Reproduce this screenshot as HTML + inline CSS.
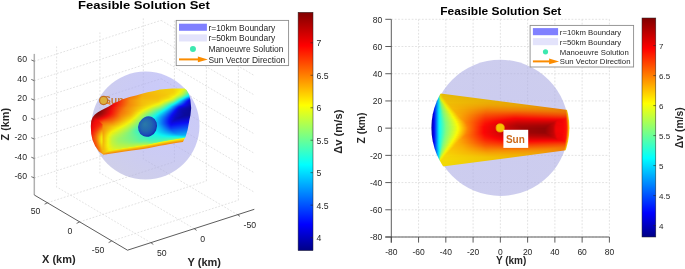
<!DOCTYPE html>
<html><head><meta charset="utf-8"><style>
html,body{margin:0;padding:0;background:#fff;}
svg{display:block;will-change:transform;}
text{font-family:"Liberation Sans", sans-serif;}
</style></head><body>
<svg width="685" height="269" viewBox="0 0 685 269">
<rect width="685" height="269" fill="#fff"/>
<line x1="47.6" y1="202.7" x2="174.4" y2="161.8" stroke="#dbdbdb" stroke-width="0.8" stroke-dasharray="1.8 1.6" fill="none"/>
<line x1="79.6" y1="221.9" x2="206.4" y2="181" stroke="#dbdbdb" stroke-width="0.8" stroke-dasharray="1.8 1.6" fill="none"/>
<line x1="111.6" y1="241.1" x2="238.4" y2="200.2" stroke="#dbdbdb" stroke-width="0.8" stroke-dasharray="1.8 1.6" fill="none"/>
<line x1="150.9" y1="242.7" x2="57.7" y2="187.5" stroke="#dbdbdb" stroke-width="0.8" stroke-dasharray="1.8 1.6" fill="none"/>
<line x1="194.2" y1="228.7" x2="101" y2="173.5" stroke="#dbdbdb" stroke-width="0.8" stroke-dasharray="1.8 1.6" fill="none"/>
<line x1="237.6" y1="214.7" x2="144.4" y2="159.5" stroke="#dbdbdb" stroke-width="0.8" stroke-dasharray="1.8 1.6" fill="none"/>
<line x1="34.3" y1="61.25" x2="161.1" y2="20.35" stroke="#dbdbdb" stroke-width="0.8" stroke-dasharray="1.8 1.6" fill="none"/>
<line x1="34.3" y1="80.7" x2="161.1" y2="39.8" stroke="#dbdbdb" stroke-width="0.8" stroke-dasharray="1.8 1.6" fill="none"/>
<line x1="34.3" y1="100.15" x2="161.1" y2="59.25" stroke="#dbdbdb" stroke-width="0.8" stroke-dasharray="1.8 1.6" fill="none"/>
<line x1="34.3" y1="119.6" x2="161.1" y2="78.7" stroke="#dbdbdb" stroke-width="0.8" stroke-dasharray="1.8 1.6" fill="none"/>
<line x1="34.3" y1="139.05" x2="161.1" y2="98.15" stroke="#dbdbdb" stroke-width="0.8" stroke-dasharray="1.8 1.6" fill="none"/>
<line x1="34.3" y1="158.5" x2="161.1" y2="117.6" stroke="#dbdbdb" stroke-width="0.8" stroke-dasharray="1.8 1.6" fill="none"/>
<line x1="34.3" y1="177.95" x2="161.1" y2="137.05" stroke="#dbdbdb" stroke-width="0.8" stroke-dasharray="1.8 1.6" fill="none"/>
<line x1="56.6" y1="187.5" x2="56.6" y2="46.4" stroke="#dbdbdb" stroke-width="0.8" stroke-dasharray="1.8 1.6" fill="none"/>
<line x1="99.9" y1="173.5" x2="99.9" y2="32.4" stroke="#dbdbdb" stroke-width="0.8" stroke-dasharray="1.8 1.6" fill="none"/>
<line x1="143.3" y1="159.5" x2="143.3" y2="18.4" stroke="#dbdbdb" stroke-width="0.8" stroke-dasharray="1.8 1.6" fill="none"/>
<line x1="161.1" y1="20.35" x2="254.3" y2="75.55" stroke="#dbdbdb" stroke-width="0.8" stroke-dasharray="1.8 1.6" fill="none"/>
<line x1="161.1" y1="39.8" x2="254.3" y2="95" stroke="#dbdbdb" stroke-width="0.8" stroke-dasharray="1.8 1.6" fill="none"/>
<line x1="161.1" y1="59.25" x2="254.3" y2="114.45" stroke="#dbdbdb" stroke-width="0.8" stroke-dasharray="1.8 1.6" fill="none"/>
<line x1="161.1" y1="78.7" x2="254.3" y2="133.9" stroke="#dbdbdb" stroke-width="0.8" stroke-dasharray="1.8 1.6" fill="none"/>
<line x1="161.1" y1="98.15" x2="254.3" y2="153.35" stroke="#dbdbdb" stroke-width="0.8" stroke-dasharray="1.8 1.6" fill="none"/>
<line x1="161.1" y1="117.6" x2="254.3" y2="172.8" stroke="#dbdbdb" stroke-width="0.8" stroke-dasharray="1.8 1.6" fill="none"/>
<line x1="161.1" y1="137.05" x2="254.3" y2="192.25" stroke="#dbdbdb" stroke-width="0.8" stroke-dasharray="1.8 1.6" fill="none"/>
<line x1="174.4" y1="161.8" x2="174.4" y2="20.7" stroke="#dbdbdb" stroke-width="0.8" stroke-dasharray="1.8 1.6" fill="none"/>
<line x1="206.4" y1="181" x2="206.4" y2="39.9" stroke="#dbdbdb" stroke-width="0.8" stroke-dasharray="1.8 1.6" fill="none"/>
<line x1="238.4" y1="200.2" x2="238.4" y2="59.1" stroke="#dbdbdb" stroke-width="0.8" stroke-dasharray="1.8 1.6" fill="none"/>
<defs>
<radialGradient id="lsph" cx="0.72" cy="0.3" r="0.95">
 <stop offset="0" stop-color="#a8a8fa"/><stop offset="0.5" stop-color="#acacec"/><stop offset="1" stop-color="#b4b4d4"/>
</radialGradient>
<clipPath id="lclip"><polygon points="92.7,117.2 94.9,114.6 97.9,112.3 100.9,110.5 105.3,108.2 108.3,106.7 111.5,104.77 114.6,102.9 118,101.38 122,99.6 129.5,97 136,95.5 141,94.11 147.5,92.3 154,90.9 160,89.6 166,89.05 172,88.5 178,88.45 184.6,88.4 185.6,89.2 186.6,90 187.45,91.5 188.3,93 188.97,94.8 189.6,96.5 190.4,100 190.8,104 191.2,108 190.85,111.5 190.5,115 189.4,120 188.5,125 187.6,130 185.5,137 182.9,142 176,143.07 170,144 165,144.9 160,145.8 154,147 148,148.2 140,149.4 132,150.52 125,151.5 117,152.73 110,153.8 103.5,154.8 99,151.5 97.23,149 95.1,146 93.8,143 92.5,140 91.85,137 91.2,134 91.05,131 90.9,128 90.8,126 91,123.5 91.2,120.9 91.97,119 92.7,117.2"/></clipPath>
<linearGradient id="ltop" gradientUnits="userSpaceOnUse" x1="95" y1="112" x2="185" y2="90">
 <stop offset="0" stop-color="#a00010"/><stop offset="0.2" stop-color="#e01000"/><stop offset="0.45" stop-color="#f07000"/>
 <stop offset="0.75" stop-color="#eca800"/><stop offset="1" stop-color="#e8b400"/>
</linearGradient>
<radialGradient id="lside" gradientUnits="userSpaceOnUse" cx="0" cy="0" r="1" gradientTransform="translate(188,116) rotate(-34) scale(92,30)">
 <stop offset="0" stop-color="#00009a"/><stop offset="0.18" stop-color="#0010ff"/><stop offset="0.45" stop-color="#00e0f0"/>
 <stop offset="0.7" stop-color="#70f070"/><stop offset="0.9" stop-color="#f0f000"/><stop offset="1" stop-color="#f8d000"/>
</radialGradient>
<linearGradient id="lcap" gradientUnits="userSpaceOnUse" x1="91" y1="120" x2="104" y2="150">
 <stop offset="0" stop-color="#d00000"/><stop offset="0.45" stop-color="#ff3000"/><stop offset="0.8" stop-color="#ffa000"/><stop offset="1" stop-color="#ffe000"/>
</linearGradient>
<filter id="lblur" x="-10%" y="-10%" width="120%" height="120%"><feGaussianBlur stdDeviation="1.6"/></filter>
</defs>
<circle cx="145.5" cy="125.6" r="54" fill="url(#lsph)" fill-opacity="0.62"/>
<text x="103.7" y="103.6" font-size="10.6" font-weight="bold" fill="#c47428" fill-opacity="0.9">Sun</text>
<line x1="103.8" y1="101" x2="110.5" y2="104.2" stroke="#ee9034" stroke-width="1.5"/>
<circle cx="103.6" cy="100.5" r="4.05" fill="#dcb03c" stroke="#bf6c24" stroke-width="1.2"/>
<g clip-path="url(#lclip)">
<defs><linearGradient id="ll0" gradientUnits="userSpaceOnUse" x1="167.0" x2="186.0" y1="0" y2="0"><stop offset="0.000" stop-color="#f4cb0b"/><stop offset="0.368" stop-color="#f4d10b"/><stop offset="0.895" stop-color="#f3f40c"/><stop offset="1.000" stop-color="#e1f41e"/></linearGradient><linearGradient id="ll1" gradientUnits="userSpaceOnUse" x1="159.0" x2="186.0" y1="0" y2="0"><stop offset="0.000" stop-color="#f4ce0b"/><stop offset="0.481" stop-color="#f4cc0b"/><stop offset="0.889" stop-color="#f1f40e"/><stop offset="1.000" stop-color="#d4f42b"/></linearGradient><linearGradient id="ll2" gradientUnits="userSpaceOnUse" x1="154.0" x2="187.0" y1="0" y2="0"><stop offset="0.000" stop-color="#f4c60b"/><stop offset="0.273" stop-color="#f4cb0b"/><stop offset="0.576" stop-color="#f4cd0b"/><stop offset="0.848" stop-color="#f1f40e"/><stop offset="0.970" stop-color="#c5f43a"/><stop offset="1.000" stop-color="#b6f449"/></linearGradient><linearGradient id="ll3" gradientUnits="userSpaceOnUse" x1="149.0" x2="188.0" y1="0" y2="0"><stop offset="0.000" stop-color="#f4bf0b"/><stop offset="0.359" stop-color="#f4c90b"/><stop offset="0.615" stop-color="#f4cd0b"/><stop offset="0.769" stop-color="#f4e80b"/><stop offset="0.821" stop-color="#f1f40e"/><stop offset="0.923" stop-color="#c6f439"/><stop offset="1.000" stop-color="#94f46b"/></linearGradient><linearGradient id="ll4" gradientUnits="userSpaceOnUse" x1="145.0" x2="188.0" y1="0" y2="0"><stop offset="0.000" stop-color="#f4b80b"/><stop offset="0.419" stop-color="#f4c70b"/><stop offset="0.674" stop-color="#f4d00b"/><stop offset="0.814" stop-color="#f3f40c"/><stop offset="0.907" stop-color="#c7f438"/><stop offset="1.000" stop-color="#81f47e"/></linearGradient><linearGradient id="ll5" gradientUnits="userSpaceOnUse" x1="142.0" x2="189.0" y1="0" y2="0"><stop offset="0.000" stop-color="#f4ae0b"/><stop offset="0.128" stop-color="#f4b90b"/><stop offset="0.660" stop-color="#f4d00b"/><stop offset="0.766" stop-color="#f4eb0b"/><stop offset="0.809" stop-color="#ecf413"/><stop offset="0.872" stop-color="#c9f436"/><stop offset="1.000" stop-color="#5af4a5"/></linearGradient><linearGradient id="ll6" gradientUnits="userSpaceOnUse" x1="138.0" x2="189.0" y1="0" y2="0"><stop offset="0.000" stop-color="#f4950b"/><stop offset="0.098" stop-color="#f4b10b"/><stop offset="0.627" stop-color="#f4cd0b"/><stop offset="0.725" stop-color="#f4dc0b"/><stop offset="0.784" stop-color="#f4f30b"/><stop offset="0.863" stop-color="#cbf434"/><stop offset="0.961" stop-color="#6ef491"/><stop offset="1.000" stop-color="#44f4bb"/></linearGradient><linearGradient id="ll7" gradientUnits="userSpaceOnUse" x1="134.0" x2="190.0" y1="0" y2="0"><stop offset="0.000" stop-color="#f47c0b"/><stop offset="0.161" stop-color="#f4b10b"/><stop offset="0.589" stop-color="#f4c80b"/><stop offset="0.714" stop-color="#f4de0b"/><stop offset="0.768" stop-color="#f2f40d"/><stop offset="0.857" stop-color="#baf445"/><stop offset="0.982" stop-color="#29f4d6"/><stop offset="1.000" stop-color="#12f4ed"/></linearGradient><linearGradient id="ll8" gradientUnits="userSpaceOnUse" x1="130.0" x2="190.0" y1="0" y2="0"><stop offset="0.000" stop-color="#f4740b"/><stop offset="0.100" stop-color="#f4880b"/><stop offset="0.200" stop-color="#f4af0b"/><stop offset="0.300" stop-color="#f4b50b"/><stop offset="0.583" stop-color="#f4c50b"/><stop offset="0.733" stop-color="#f4e70b"/><stop offset="0.767" stop-color="#edf412"/><stop offset="0.850" stop-color="#b2f44d"/><stop offset="0.900" stop-color="#76f489"/><stop offset="0.967" stop-color="#1df4e2"/><stop offset="0.983" stop-color="#0beef4"/><stop offset="1.000" stop-color="#0bd6f4"/></linearGradient><linearGradient id="ll9" gradientUnits="userSpaceOnUse" x1="127.0" x2="191.0" y1="0" y2="0"><stop offset="0.000" stop-color="#f4670b"/><stop offset="0.078" stop-color="#f47e0b"/><stop offset="0.141" stop-color="#f48b0b"/><stop offset="0.234" stop-color="#f4b10b"/><stop offset="0.500" stop-color="#f4be0b"/><stop offset="0.641" stop-color="#f4d10b"/><stop offset="0.734" stop-color="#f4f40b"/><stop offset="0.844" stop-color="#92f46d"/><stop offset="0.891" stop-color="#50f4af"/><stop offset="0.922" stop-color="#1ef4e1"/><stop offset="0.938" stop-color="#0beff4"/><stop offset="1.000" stop-color="#0b93f4"/></linearGradient><linearGradient id="ll10" gradientUnits="userSpaceOnUse" x1="124.0" x2="191.0" y1="0" y2="0"><stop offset="0.000" stop-color="#f4510b"/><stop offset="0.090" stop-color="#f47e0b"/><stop offset="0.179" stop-color="#f4900b"/><stop offset="0.269" stop-color="#f4b40b"/><stop offset="0.507" stop-color="#f4be0b"/><stop offset="0.657" stop-color="#f4d70b"/><stop offset="0.731" stop-color="#eff410"/><stop offset="0.776" stop-color="#c4f43b"/><stop offset="0.866" stop-color="#56f4a9"/><stop offset="0.910" stop-color="#0beff4"/><stop offset="0.970" stop-color="#0b8cf4"/><stop offset="1.000" stop-color="#0b63f4"/></linearGradient><linearGradient id="ll11" gradientUnits="userSpaceOnUse" x1="122.0" x2="191.0" y1="0" y2="0"><stop offset="0.000" stop-color="#f4410b"/><stop offset="0.116" stop-color="#f4830b"/><stop offset="0.203" stop-color="#f4960b"/><stop offset="0.275" stop-color="#f4b40b"/><stop offset="0.522" stop-color="#f4c00b"/><stop offset="0.667" stop-color="#f4e00b"/><stop offset="0.710" stop-color="#f2f40d"/><stop offset="0.754" stop-color="#cff430"/><stop offset="0.870" stop-color="#28f4d7"/><stop offset="0.884" stop-color="#0ef4f1"/><stop offset="0.957" stop-color="#0b6bf4"/><stop offset="1.000" stop-color="#0b32f4"/></linearGradient><linearGradient id="ll12" gradientUnits="userSpaceOnUse" x1="119.0" x2="191.0" y1="0" y2="0"><stop offset="0.000" stop-color="#f42d0b"/><stop offset="0.083" stop-color="#f45d0b"/><stop offset="0.153" stop-color="#f4880b"/><stop offset="0.250" stop-color="#f4a20b"/><stop offset="0.319" stop-color="#f4b90b"/><stop offset="0.542" stop-color="#f4c30b"/><stop offset="0.681" stop-color="#f4ee0b"/><stop offset="0.708" stop-color="#e8f417"/><stop offset="0.750" stop-color="#c8f437"/><stop offset="0.792" stop-color="#89f476"/><stop offset="0.861" stop-color="#14f4eb"/><stop offset="0.875" stop-color="#0be3f4"/><stop offset="0.958" stop-color="#0b3bf4"/><stop offset="0.986" stop-color="#0b16f4"/><stop offset="1.000" stop-color="#0b0bf1"/></linearGradient><linearGradient id="ll13" gradientUnits="userSpaceOnUse" x1="117.0" x2="191.0" y1="0" y2="0"><stop offset="0.000" stop-color="#f41c0b"/><stop offset="0.108" stop-color="#f45f0b"/><stop offset="0.176" stop-color="#f48b0b"/><stop offset="0.284" stop-color="#f4ac0b"/><stop offset="0.351" stop-color="#f4bc0b"/><stop offset="0.554" stop-color="#f4c90b"/><stop offset="0.662" stop-color="#f3f40c"/><stop offset="0.743" stop-color="#b9f446"/><stop offset="0.770" stop-color="#97f468"/><stop offset="0.838" stop-color="#1bf4e4"/><stop offset="0.851" stop-color="#0bebf4"/><stop offset="0.959" stop-color="#0b17f4"/><stop offset="0.973" stop-color="#0b0bec"/><stop offset="1.000" stop-color="#0b0bd2"/></linearGradient><linearGradient id="ll14" gradientUnits="userSpaceOnUse" x1="115.0" x2="192.0" y1="0" y2="0"><stop offset="0.000" stop-color="#ef0b0b"/><stop offset="0.130" stop-color="#f4600b"/><stop offset="0.195" stop-color="#f48c0b"/><stop offset="0.351" stop-color="#f4bc0b"/><stop offset="0.558" stop-color="#f4d00b"/><stop offset="0.623" stop-color="#f4f00b"/><stop offset="0.688" stop-color="#c9f436"/><stop offset="0.753" stop-color="#86f479"/><stop offset="0.792" stop-color="#42f4bd"/><stop offset="0.818" stop-color="#0df4f2"/><stop offset="0.909" stop-color="#0b46f4"/><stop offset="0.935" stop-color="#0b15f4"/><stop offset="0.948" stop-color="#0b0be9"/><stop offset="0.987" stop-color="#0b0bbf"/><stop offset="1.000" stop-color="#0b0bb6"/></linearGradient><linearGradient id="ll15" gradientUnits="userSpaceOnUse" x1="113.0" x2="192.0" y1="0" y2="0"><stop offset="0.000" stop-color="#da0b0b"/><stop offset="0.025" stop-color="#f20b0b"/><stop offset="0.152" stop-color="#f4620b"/><stop offset="0.215" stop-color="#f48c0b"/><stop offset="0.367" stop-color="#f4bc0b"/><stop offset="0.532" stop-color="#f4d20b"/><stop offset="0.595" stop-color="#f4e70b"/><stop offset="0.620" stop-color="#eff410"/><stop offset="0.696" stop-color="#a9f456"/><stop offset="0.759" stop-color="#5ef4a1"/><stop offset="0.797" stop-color="#1af4e5"/><stop offset="0.810" stop-color="#0be9f4"/><stop offset="0.924" stop-color="#0b19f4"/><stop offset="0.937" stop-color="#0b0bed"/><stop offset="0.987" stop-color="#0b0bb5"/><stop offset="1.000" stop-color="#0b0bab"/></linearGradient><linearGradient id="ll16" gradientUnits="userSpaceOnUse" x1="112.0" x2="192.0" y1="0" y2="0"><stop offset="0.000" stop-color="#d10b0b"/><stop offset="0.037" stop-color="#f40d0b"/><stop offset="0.163" stop-color="#f4650b"/><stop offset="0.225" stop-color="#f48d0b"/><stop offset="0.375" stop-color="#f4bd0b"/><stop offset="0.500" stop-color="#f4d20b"/><stop offset="0.600" stop-color="#f1f40e"/><stop offset="0.675" stop-color="#a8f457"/><stop offset="0.762" stop-color="#35f4ca"/><stop offset="0.787" stop-color="#0bf2f4"/><stop offset="0.850" stop-color="#0b7df4"/><stop offset="0.912" stop-color="#0b1af4"/><stop offset="0.925" stop-color="#0b0bf1"/><stop offset="1.000" stop-color="#0b0ba5"/></linearGradient><linearGradient id="ll17" gradientUnits="userSpaceOnUse" x1="110.0" x2="192.0" y1="0" y2="0"><stop offset="0.000" stop-color="#be0b0b"/><stop offset="0.049" stop-color="#ef0b0b"/><stop offset="0.134" stop-color="#f4430b"/><stop offset="0.220" stop-color="#f4820b"/><stop offset="0.378" stop-color="#f4bb0b"/><stop offset="0.500" stop-color="#f4d80b"/><stop offset="0.573" stop-color="#f3f40c"/><stop offset="0.610" stop-color="#ddf422"/><stop offset="0.683" stop-color="#8bf474"/><stop offset="0.768" stop-color="#0df4f2"/><stop offset="0.854" stop-color="#0b59f4"/><stop offset="0.902" stop-color="#0b17f4"/><stop offset="0.915" stop-color="#0b0bef"/><stop offset="1.000" stop-color="#0b0ba1"/></linearGradient><linearGradient id="ll18" gradientUnits="userSpaceOnUse" x1="108.0" x2="192.0" y1="0" y2="0"><stop offset="0.000" stop-color="#ac0b0b"/><stop offset="0.071" stop-color="#f40d0b"/><stop offset="0.238" stop-color="#f4850b"/><stop offset="0.417" stop-color="#f4c30b"/><stop offset="0.512" stop-color="#f4e40b"/><stop offset="0.548" stop-color="#f0f40f"/><stop offset="0.607" stop-color="#d1f42e"/><stop offset="0.655" stop-color="#9ef461"/><stop offset="0.726" stop-color="#37f4c8"/><stop offset="0.750" stop-color="#10f4ef"/><stop offset="0.774" stop-color="#0bcff4"/><stop offset="0.845" stop-color="#0b47f4"/><stop offset="0.893" stop-color="#0b0df4"/><stop offset="1.000" stop-color="#0b0b9d"/></linearGradient><linearGradient id="ll19" gradientUnits="userSpaceOnUse" x1="106.0" x2="192.0" y1="0" y2="0"><stop offset="0.000" stop-color="#9f0b0b"/><stop offset="0.081" stop-color="#f10b0b"/><stop offset="0.244" stop-color="#f4830b"/><stop offset="0.512" stop-color="#f4eb0b"/><stop offset="0.535" stop-color="#edf412"/><stop offset="0.616" stop-color="#b8f447"/><stop offset="0.663" stop-color="#83f47c"/><stop offset="0.733" stop-color="#1af4e5"/><stop offset="0.744" stop-color="#0beef4"/><stop offset="0.837" stop-color="#0b37f4"/><stop offset="0.860" stop-color="#0b14f4"/><stop offset="0.872" stop-color="#0b0bf0"/><stop offset="0.953" stop-color="#0b0bb7"/><stop offset="1.000" stop-color="#0b0b99"/></linearGradient><linearGradient id="ll20" gradientUnits="userSpaceOnUse" x1="104.0" x2="192.0" y1="0" y2="0"><stop offset="0.000" stop-color="#940b0b"/><stop offset="0.045" stop-color="#bd0b0b"/><stop offset="0.091" stop-color="#ee0b0b"/><stop offset="0.125" stop-color="#f4240b"/><stop offset="0.250" stop-color="#f4820b"/><stop offset="0.489" stop-color="#f4e60b"/><stop offset="0.511" stop-color="#f4f30b"/><stop offset="0.625" stop-color="#9ff460"/><stop offset="0.682" stop-color="#57f4a8"/><stop offset="0.727" stop-color="#11f4ee"/><stop offset="0.750" stop-color="#0bd2f4"/><stop offset="0.841" stop-color="#0b18f4"/><stop offset="0.852" stop-color="#0b0bee"/><stop offset="0.886" stop-color="#0b0bce"/><stop offset="1.000" stop-color="#0b0b95"/></linearGradient><linearGradient id="ll21" gradientUnits="userSpaceOnUse" x1="102.0" x2="192.0" y1="0" y2="0"><stop offset="0.000" stop-color="#8b0b0b"/><stop offset="0.056" stop-color="#b70b0b"/><stop offset="0.111" stop-color="#f30b0b"/><stop offset="0.256" stop-color="#f4800b"/><stop offset="0.444" stop-color="#f4d30b"/><stop offset="0.500" stop-color="#f3f40c"/><stop offset="0.633" stop-color="#85f47a"/><stop offset="0.689" stop-color="#3cf4c3"/><stop offset="0.722" stop-color="#0bf0f4"/><stop offset="0.767" stop-color="#0ba1f4"/><stop offset="0.833" stop-color="#0b13f4"/><stop offset="0.856" stop-color="#0b0bd7"/><stop offset="0.889" stop-color="#0b0bbc"/><stop offset="1.000" stop-color="#0b0b92"/></linearGradient><linearGradient id="ll22" gradientUnits="userSpaceOnUse" x1="101.0" x2="192.0" y1="0" y2="0"><stop offset="0.000" stop-color="#870b0b"/><stop offset="0.055" stop-color="#b10b0b"/><stop offset="0.121" stop-color="#f40f0b"/><stop offset="0.253" stop-color="#f47d0b"/><stop offset="0.385" stop-color="#f4b90b"/><stop offset="0.484" stop-color="#f3f40c"/><stop offset="0.571" stop-color="#aaf455"/><stop offset="0.648" stop-color="#5ef4a1"/><stop offset="0.703" stop-color="#11f4ee"/><stop offset="0.736" stop-color="#0bc4f4"/><stop offset="0.791" stop-color="#0b57f4"/><stop offset="0.824" stop-color="#0b13f4"/><stop offset="0.846" stop-color="#0b0bd7"/><stop offset="0.879" stop-color="#0b0bb5"/><stop offset="1.000" stop-color="#0b0b91"/></linearGradient><linearGradient id="ll23" gradientUnits="userSpaceOnUse" x1="99.0" x2="192.0" y1="0" y2="0"><stop offset="0.000" stop-color="#800b0b"/><stop offset="0.032" stop-color="#8f0b0b"/><stop offset="0.129" stop-color="#ef0b0b"/><stop offset="0.237" stop-color="#f4690b"/><stop offset="0.290" stop-color="#f48c0b"/><stop offset="0.376" stop-color="#f4b10b"/><stop offset="0.473" stop-color="#f4f20b"/><stop offset="0.559" stop-color="#abf454"/><stop offset="0.667" stop-color="#37f4c8"/><stop offset="0.699" stop-color="#0bf1f4"/><stop offset="0.763" stop-color="#0b83f4"/><stop offset="0.817" stop-color="#0b16f4"/><stop offset="0.828" stop-color="#0b0beb"/><stop offset="0.860" stop-color="#0b0bbf"/><stop offset="0.903" stop-color="#0b0ba6"/><stop offset="1.000" stop-color="#0b0b90"/></linearGradient><linearGradient id="ll24" gradientUnits="userSpaceOnUse" x1="97.0" x2="192.0" y1="0" y2="0"><stop offset="0.000" stop-color="#800b0b"/><stop offset="0.042" stop-color="#8a0b0b"/><stop offset="0.147" stop-color="#f20b0b"/><stop offset="0.263" stop-color="#f4760b"/><stop offset="0.326" stop-color="#f4950b"/><stop offset="0.389" stop-color="#f4b70b"/><stop offset="0.474" stop-color="#eff410"/><stop offset="0.579" stop-color="#8df472"/><stop offset="0.674" stop-color="#1ff4e0"/><stop offset="0.684" stop-color="#11f4ee"/><stop offset="0.705" stop-color="#0bd9f4"/><stop offset="0.768" stop-color="#0b6cf4"/><stop offset="0.811" stop-color="#0b1af4"/><stop offset="0.821" stop-color="#0b0bf0"/><stop offset="0.853" stop-color="#0b0bc5"/><stop offset="0.895" stop-color="#0b0ba7"/><stop offset="1.000" stop-color="#0b0b91"/></linearGradient><linearGradient id="ll25" gradientUnits="userSpaceOnUse" x1="96.0" x2="192.0" y1="0" y2="0"><stop offset="0.000" stop-color="#800b0b"/><stop offset="0.042" stop-color="#870b0b"/><stop offset="0.115" stop-color="#cd0b0b"/><stop offset="0.156" stop-color="#f40d0b"/><stop offset="0.260" stop-color="#f4730b"/><stop offset="0.323" stop-color="#f4950b"/><stop offset="0.375" stop-color="#f4ae0b"/><stop offset="0.458" stop-color="#f4f30b"/><stop offset="0.594" stop-color="#6ef491"/><stop offset="0.677" stop-color="#0bf1f4"/><stop offset="0.750" stop-color="#0b7df4"/><stop offset="0.812" stop-color="#0b0cf4"/><stop offset="0.854" stop-color="#0b0bc0"/><stop offset="0.906" stop-color="#0b0ba1"/><stop offset="1.000" stop-color="#0b0b92"/></linearGradient><linearGradient id="ll26" gradientUnits="userSpaceOnUse" x1="95.0" x2="192.0" y1="0" y2="0"><stop offset="0.000" stop-color="#830b0b"/><stop offset="0.052" stop-color="#8d0b0b"/><stop offset="0.155" stop-color="#f00b0b"/><stop offset="0.196" stop-color="#f4310b"/><stop offset="0.268" stop-color="#f4780b"/><stop offset="0.340" stop-color="#f49c0b"/><stop offset="0.392" stop-color="#f4bc0b"/><stop offset="0.454" stop-color="#f1f40e"/><stop offset="0.608" stop-color="#4ff4b0"/><stop offset="0.660" stop-color="#0ff4f0"/><stop offset="0.711" stop-color="#0baff4"/><stop offset="0.804" stop-color="#0b0ff4"/><stop offset="0.845" stop-color="#0b0bc5"/><stop offset="0.918" stop-color="#0b0b9d"/><stop offset="1.000" stop-color="#0b0b93"/></linearGradient><linearGradient id="ll27" gradientUnits="userSpaceOnUse" x1="94.0" x2="192.0" y1="0" y2="0"><stop offset="0.000" stop-color="#930b0b"/><stop offset="0.010" stop-color="#940b0b"/><stop offset="0.020" stop-color="#8b0b0b"/><stop offset="0.061" stop-color="#980b0b"/><stop offset="0.153" stop-color="#f00b0b"/><stop offset="0.194" stop-color="#f42b0b"/><stop offset="0.265" stop-color="#f4760b"/><stop offset="0.327" stop-color="#f4990b"/><stop offset="0.378" stop-color="#f4b30b"/><stop offset="0.449" stop-color="#eff410"/><stop offset="0.622" stop-color="#31f4ce"/><stop offset="0.653" stop-color="#0bf2f4"/><stop offset="0.724" stop-color="#0b8cf4"/><stop offset="0.796" stop-color="#0b12f4"/><stop offset="0.816" stop-color="#0b0bde"/><stop offset="0.857" stop-color="#0b0bba"/><stop offset="0.929" stop-color="#0b0b9a"/><stop offset="1.000" stop-color="#0b0b94"/></linearGradient><linearGradient id="ll28" gradientUnits="userSpaceOnUse" x1="93.0" x2="191.0" y1="0" y2="0"><stop offset="0.000" stop-color="#940b0b"/><stop offset="0.020" stop-color="#9b0b0b"/><stop offset="0.031" stop-color="#960b0b"/><stop offset="0.071" stop-color="#a70b0b"/><stop offset="0.153" stop-color="#f20b0b"/><stop offset="0.214" stop-color="#f43e0b"/><stop offset="0.286" stop-color="#f4830b"/><stop offset="0.388" stop-color="#f4bb0b"/><stop offset="0.449" stop-color="#eff410"/><stop offset="0.643" stop-color="#14f4eb"/><stop offset="0.653" stop-color="#0beff4"/><stop offset="0.735" stop-color="#0b7bf4"/><stop offset="0.796" stop-color="#0b17f4"/><stop offset="0.806" stop-color="#0b0bef"/><stop offset="0.847" stop-color="#0b0bc3"/><stop offset="0.929" stop-color="#0b0b9b"/><stop offset="0.980" stop-color="#0b0b9a"/><stop offset="1.000" stop-color="#0b0b9d"/></linearGradient><linearGradient id="ll29" gradientUnits="userSpaceOnUse" x1="93.0" x2="191.0" y1="0" y2="0"><stop offset="0.000" stop-color="#9c0b0b"/><stop offset="0.020" stop-color="#a70b0b"/><stop offset="0.031" stop-color="#a40b0b"/><stop offset="0.082" stop-color="#c10b0b"/><stop offset="0.133" stop-color="#f00b0b"/><stop offset="0.204" stop-color="#f43e0b"/><stop offset="0.286" stop-color="#f4890b"/><stop offset="0.388" stop-color="#f4c40b"/><stop offset="0.439" stop-color="#eff410"/><stop offset="0.633" stop-color="#13f4ec"/><stop offset="0.653" stop-color="#0be1f4"/><stop offset="0.745" stop-color="#0b5df4"/><stop offset="0.796" stop-color="#0b0df4"/><stop offset="0.837" stop-color="#0b0bc6"/><stop offset="0.908" stop-color="#0b0ba0"/><stop offset="1.000" stop-color="#0b0bab"/></linearGradient><linearGradient id="ll30" gradientUnits="userSpaceOnUse" x1="92.0" x2="191.0" y1="0" y2="0"><stop offset="0.000" stop-color="#9d0b0b"/><stop offset="0.030" stop-color="#b80b0b"/><stop offset="0.040" stop-color="#b20b0b"/><stop offset="0.101" stop-color="#df0b0b"/><stop offset="0.121" stop-color="#f10b0b"/><stop offset="0.222" stop-color="#f4520b"/><stop offset="0.293" stop-color="#f4910b"/><stop offset="0.394" stop-color="#f4cf0b"/><stop offset="0.434" stop-color="#eff410"/><stop offset="0.626" stop-color="#13f4ec"/><stop offset="0.636" stop-color="#0beff4"/><stop offset="0.727" stop-color="#0b70f4"/><stop offset="0.788" stop-color="#0b13f4"/><stop offset="0.808" stop-color="#0b0be0"/><stop offset="0.848" stop-color="#0b0bb9"/><stop offset="0.889" stop-color="#0b0ba5"/><stop offset="1.000" stop-color="#0b0bb8"/></linearGradient><linearGradient id="ll31" gradientUnits="userSpaceOnUse" x1="91.0" x2="191.0" y1="0" y2="0"><stop offset="0.000" stop-color="#990b0b"/><stop offset="0.040" stop-color="#cb0b0b"/><stop offset="0.050" stop-color="#d30b0b"/><stop offset="0.060" stop-color="#c90b0b"/><stop offset="0.110" stop-color="#f40c0b"/><stop offset="0.170" stop-color="#f4360b"/><stop offset="0.230" stop-color="#f45e0b"/><stop offset="0.310" stop-color="#f49f0b"/><stop offset="0.390" stop-color="#f4d10b"/><stop offset="0.430" stop-color="#eef411"/><stop offset="0.620" stop-color="#15f4ea"/><stop offset="0.630" stop-color="#0bf1f4"/><stop offset="0.710" stop-color="#0b85f4"/><stop offset="0.790" stop-color="#0b0df4"/><stop offset="0.840" stop-color="#0b0bbe"/><stop offset="0.870" stop-color="#0b0baf"/><stop offset="1.000" stop-color="#0b0bc5"/></linearGradient><linearGradient id="ll32" gradientUnits="userSpaceOnUse" x1="91.0" x2="191.0" y1="0" y2="0"><stop offset="0.000" stop-color="#a10b0b"/><stop offset="0.040" stop-color="#dd0b0b"/><stop offset="0.060" stop-color="#e90b0b"/><stop offset="0.070" stop-color="#e30b0b"/><stop offset="0.090" stop-color="#f40f0b"/><stop offset="0.140" stop-color="#f4390b"/><stop offset="0.220" stop-color="#f4620b"/><stop offset="0.320" stop-color="#f4ae0b"/><stop offset="0.390" stop-color="#f4dc0b"/><stop offset="0.410" stop-color="#f4ef0b"/><stop offset="0.460" stop-color="#c0f43f"/><stop offset="0.620" stop-color="#0bf4f4"/><stop offset="0.690" stop-color="#0b9bf4"/><stop offset="0.780" stop-color="#0b16f4"/><stop offset="0.790" stop-color="#0b0bf0"/><stop offset="0.840" stop-color="#0b0bbb"/><stop offset="0.870" stop-color="#0b0bbc"/><stop offset="1.000" stop-color="#0b0bd3"/></linearGradient><linearGradient id="ll33" gradientUnits="userSpaceOnUse" x1="90.0" x2="190.0" y1="0" y2="0"><stop offset="0.000" stop-color="#9d0b0b"/><stop offset="0.050" stop-color="#e90b0b"/><stop offset="0.070" stop-color="#f40e0b"/><stop offset="0.090" stop-color="#f4180b"/><stop offset="0.140" stop-color="#f4470b"/><stop offset="0.220" stop-color="#f4680b"/><stop offset="0.340" stop-color="#f4bd0b"/><stop offset="0.400" stop-color="#f4e70b"/><stop offset="0.410" stop-color="#f4f10b"/><stop offset="0.620" stop-color="#0ef4f1"/><stop offset="0.680" stop-color="#0bb2f4"/><stop offset="0.790" stop-color="#0b13f4"/><stop offset="0.810" stop-color="#0b0be2"/><stop offset="0.840" stop-color="#0b0bc3"/><stop offset="1.000" stop-color="#0b0bde"/></linearGradient><linearGradient id="ll34" gradientUnits="userSpaceOnUse" x1="90.0" x2="190.0" y1="0" y2="0"><stop offset="0.000" stop-color="#a60b0b"/><stop offset="0.050" stop-color="#f10b0b"/><stop offset="0.090" stop-color="#f4160b"/><stop offset="0.100" stop-color="#f4360b"/><stop offset="0.140" stop-color="#f45b0b"/><stop offset="0.220" stop-color="#f4760b"/><stop offset="0.390" stop-color="#f4ea0b"/><stop offset="0.400" stop-color="#f4f30b"/><stop offset="0.600" stop-color="#1bf4e4"/><stop offset="0.620" stop-color="#0bf0f4"/><stop offset="0.690" stop-color="#0ba2f4"/><stop offset="0.790" stop-color="#0b12f4"/><stop offset="0.810" stop-color="#0b0be3"/><stop offset="0.830" stop-color="#0b0bcd"/><stop offset="1.000" stop-color="#0b0bec"/></linearGradient><linearGradient id="ll35" gradientUnits="userSpaceOnUse" x1="90.0" x2="190.0" y1="0" y2="0"><stop offset="0.000" stop-color="#af0b0b"/><stop offset="0.040" stop-color="#eb0b0b"/><stop offset="0.050" stop-color="#f40d0b"/><stop offset="0.100" stop-color="#f41c0b"/><stop offset="0.110" stop-color="#f4530b"/><stop offset="0.140" stop-color="#f46c0b"/><stop offset="0.220" stop-color="#f4830b"/><stop offset="0.390" stop-color="#f1f40e"/><stop offset="0.590" stop-color="#1df4e2"/><stop offset="0.610" stop-color="#0bf3f4"/><stop offset="0.680" stop-color="#0baef4"/><stop offset="0.790" stop-color="#0b15f4"/><stop offset="0.800" stop-color="#0b0bf1"/><stop offset="0.820" stop-color="#0b0bda"/><stop offset="0.990" stop-color="#0b0ff4"/><stop offset="1.000" stop-color="#0b11f4"/></linearGradient><linearGradient id="ll36" gradientUnits="userSpaceOnUse" x1="90.0" x2="190.0" y1="0" y2="0"><stop offset="0.000" stop-color="#b80b0b"/><stop offset="0.040" stop-color="#ef0b0b"/><stop offset="0.110" stop-color="#f4280b"/><stop offset="0.120" stop-color="#f46c0b"/><stop offset="0.150" stop-color="#f47e0b"/><stop offset="0.220" stop-color="#f4910b"/><stop offset="0.370" stop-color="#f4f10b"/><stop offset="0.420" stop-color="#c4f43b"/><stop offset="0.590" stop-color="#17f4e8"/><stop offset="0.610" stop-color="#0beff4"/><stop offset="0.680" stop-color="#0bb0f4"/><stop offset="0.790" stop-color="#0b19f4"/><stop offset="0.800" stop-color="#0b0df4"/><stop offset="0.820" stop-color="#0b0be5"/><stop offset="0.910" stop-color="#0b0ff4"/><stop offset="1.000" stop-color="#0b1ef4"/></linearGradient><linearGradient id="ll37" gradientUnits="userSpaceOnUse" x1="90.0" x2="190.0" y1="0" y2="0"><stop offset="0.000" stop-color="#bf0b0b"/><stop offset="0.040" stop-color="#f30b0b"/><stop offset="0.100" stop-color="#f4290b"/><stop offset="0.120" stop-color="#f43b0b"/><stop offset="0.130" stop-color="#f47f0b"/><stop offset="0.230" stop-color="#f4a30b"/><stop offset="0.360" stop-color="#f1f40e"/><stop offset="0.420" stop-color="#b7f448"/><stop offset="0.580" stop-color="#19f4e6"/><stop offset="0.600" stop-color="#0bf2f4"/><stop offset="0.680" stop-color="#0bb4f4"/><stop offset="0.740" stop-color="#0b63f4"/><stop offset="0.800" stop-color="#0b15f4"/><stop offset="0.810" stop-color="#0b0bf1"/><stop offset="1.000" stop-color="#0b2cf4"/></linearGradient><linearGradient id="ll38" gradientUnits="userSpaceOnUse" x1="90.0" x2="189.0" y1="0" y2="0"><stop offset="0.000" stop-color="#c60b0b"/><stop offset="0.040" stop-color="#f40d0b"/><stop offset="0.091" stop-color="#f4280b"/><stop offset="0.121" stop-color="#f4480b"/><stop offset="0.131" stop-color="#f4860b"/><stop offset="0.242" stop-color="#f4b60b"/><stop offset="0.343" stop-color="#f2f40d"/><stop offset="0.404" stop-color="#bff440"/><stop offset="0.495" stop-color="#64f49b"/><stop offset="0.596" stop-color="#0ef4f1"/><stop offset="0.677" stop-color="#0bc2f4"/><stop offset="0.717" stop-color="#0b96f4"/><stop offset="0.798" stop-color="#0b2af4"/><stop offset="0.818" stop-color="#0b15f4"/><stop offset="1.000" stop-color="#0b37f4"/></linearGradient><linearGradient id="ll39" gradientUnits="userSpaceOnUse" x1="90.0" x2="189.0" y1="0" y2="0"><stop offset="0.000" stop-color="#cc0b0b"/><stop offset="0.030" stop-color="#ef0b0b"/><stop offset="0.091" stop-color="#f4310b"/><stop offset="0.121" stop-color="#f4560b"/><stop offset="0.131" stop-color="#f48c0b"/><stop offset="0.263" stop-color="#f4cf0b"/><stop offset="0.323" stop-color="#f3f40c"/><stop offset="0.394" stop-color="#bdf442"/><stop offset="0.485" stop-color="#63f49c"/><stop offset="0.586" stop-color="#11f4ee"/><stop offset="0.626" stop-color="#0be3f4"/><stop offset="0.687" stop-color="#0bbff4"/><stop offset="0.727" stop-color="#0b91f4"/><stop offset="0.808" stop-color="#0b2af4"/><stop offset="0.818" stop-color="#0b23f4"/><stop offset="1.000" stop-color="#0b45f4"/></linearGradient><linearGradient id="ll40" gradientUnits="userSpaceOnUse" x1="90.0" x2="189.0" y1="0" y2="0"><stop offset="0.000" stop-color="#d10b0b"/><stop offset="0.030" stop-color="#f20b0b"/><stop offset="0.091" stop-color="#f43c0b"/><stop offset="0.121" stop-color="#f4660b"/><stop offset="0.131" stop-color="#f4900b"/><stop offset="0.303" stop-color="#f4f40b"/><stop offset="0.384" stop-color="#baf445"/><stop offset="0.475" stop-color="#61f49e"/><stop offset="0.586" stop-color="#0ef4f1"/><stop offset="0.687" stop-color="#0bc5f4"/><stop offset="0.727" stop-color="#0b9bf4"/><stop offset="0.808" stop-color="#0b38f4"/><stop offset="0.818" stop-color="#0b30f4"/><stop offset="1.000" stop-color="#0b52f4"/></linearGradient><linearGradient id="ll41" gradientUnits="userSpaceOnUse" x1="90.0" x2="189.0" y1="0" y2="0"><stop offset="0.000" stop-color="#d70b0b"/><stop offset="0.030" stop-color="#f40e0b"/><stop offset="0.081" stop-color="#f43b0b"/><stop offset="0.121" stop-color="#f4760b"/><stop offset="0.131" stop-color="#f4920b"/><stop offset="0.283" stop-color="#f4f30b"/><stop offset="0.374" stop-color="#b8f447"/><stop offset="0.475" stop-color="#58f4a7"/><stop offset="0.586" stop-color="#0cf4f3"/><stop offset="0.687" stop-color="#0bccf4"/><stop offset="0.727" stop-color="#0ba4f4"/><stop offset="0.818" stop-color="#0b3df4"/><stop offset="1.000" stop-color="#0b5ff4"/></linearGradient><linearGradient id="ll42" gradientUnits="userSpaceOnUse" x1="90.0" x2="189.0" y1="0" y2="0"><stop offset="0.000" stop-color="#db0b0b"/><stop offset="0.020" stop-color="#f10b0b"/><stop offset="0.081" stop-color="#f4460b"/><stop offset="0.131" stop-color="#f4950b"/><stop offset="0.253" stop-color="#f4ec0b"/><stop offset="0.283" stop-color="#e9f416"/><stop offset="0.384" stop-color="#a5f45a"/><stop offset="0.465" stop-color="#57f4a8"/><stop offset="0.586" stop-color="#0bf3f4"/><stop offset="0.677" stop-color="#0bd7f4"/><stop offset="0.727" stop-color="#0badf4"/><stop offset="0.818" stop-color="#0b4ff4"/><stop offset="0.889" stop-color="#0b59f4"/><stop offset="1.000" stop-color="#0b6df4"/></linearGradient><linearGradient id="ll43" gradientUnits="userSpaceOnUse" x1="90.0" x2="188.0" y1="0" y2="0"><stop offset="0.000" stop-color="#e00b0b"/><stop offset="0.020" stop-color="#f40e0b"/><stop offset="0.071" stop-color="#f4450b"/><stop offset="0.122" stop-color="#f4980b"/><stop offset="0.133" stop-color="#f4970b"/><stop offset="0.235" stop-color="#f4e90b"/><stop offset="0.265" stop-color="#eaf415"/><stop offset="0.388" stop-color="#9bf464"/><stop offset="0.469" stop-color="#52f4ad"/><stop offset="0.592" stop-color="#0cf4f3"/><stop offset="0.684" stop-color="#0bdef4"/><stop offset="0.745" stop-color="#0bacf4"/><stop offset="0.837" stop-color="#0b5af4"/><stop offset="1.000" stop-color="#0b78f4"/></linearGradient><linearGradient id="ll44" gradientUnits="userSpaceOnUse" x1="90.0" x2="188.0" y1="0" y2="0"><stop offset="0.000" stop-color="#e40b0b"/><stop offset="0.010" stop-color="#f00b0b"/><stop offset="0.061" stop-color="#f4420b"/><stop offset="0.122" stop-color="#f4a80b"/><stop offset="0.133" stop-color="#f4990b"/><stop offset="0.224" stop-color="#f4ed0b"/><stop offset="0.245" stop-color="#ecf413"/><stop offset="0.388" stop-color="#94f46b"/><stop offset="0.469" stop-color="#4ff4b0"/><stop offset="0.561" stop-color="#1ff4e0"/><stop offset="0.602" stop-color="#0cf4f3"/><stop offset="0.673" stop-color="#0be9f4"/><stop offset="0.745" stop-color="#0bb8f4"/><stop offset="0.847" stop-color="#0b69f4"/><stop offset="1.000" stop-color="#0b86f4"/></linearGradient><linearGradient id="ll45" gradientUnits="userSpaceOnUse" x1="90.0" x2="188.0" y1="0" y2="0"><stop offset="0.000" stop-color="#e80b0b"/><stop offset="0.010" stop-color="#f40c0b"/><stop offset="0.071" stop-color="#f45c0b"/><stop offset="0.122" stop-color="#f4b80b"/><stop offset="0.133" stop-color="#f49c0b"/><stop offset="0.214" stop-color="#f4ef0b"/><stop offset="0.316" stop-color="#b8f447"/><stop offset="0.418" stop-color="#76f489"/><stop offset="0.480" stop-color="#4bf4b4"/><stop offset="0.571" stop-color="#1ef4e1"/><stop offset="0.612" stop-color="#10f4ef"/><stop offset="0.673" stop-color="#0bf1f4"/><stop offset="0.857" stop-color="#0b79f4"/><stop offset="1.000" stop-color="#0b93f4"/></linearGradient><linearGradient id="ll46" gradientUnits="userSpaceOnUse" x1="90.0" x2="188.0" y1="0" y2="0"><stop offset="0.000" stop-color="#ec0b0b"/><stop offset="0.020" stop-color="#f41d0b"/><stop offset="0.071" stop-color="#f4670b"/><stop offset="0.122" stop-color="#f4c60b"/><stop offset="0.133" stop-color="#f49e0b"/><stop offset="0.204" stop-color="#f4f00b"/><stop offset="0.306" stop-color="#b4f44b"/><stop offset="0.500" stop-color="#45f4ba"/><stop offset="0.612" stop-color="#16f4e9"/><stop offset="0.673" stop-color="#11f4ee"/><stop offset="0.714" stop-color="#0be4f4"/><stop offset="0.867" stop-color="#0b8cf4"/><stop offset="1.000" stop-color="#0ba0f4"/></linearGradient><linearGradient id="ll47" gradientUnits="userSpaceOnUse" x1="90.0" x2="187.0" y1="0" y2="0"><stop offset="0.000" stop-color="#f00b0b"/><stop offset="0.052" stop-color="#f44d0b"/><stop offset="0.124" stop-color="#f4d30b"/><stop offset="0.134" stop-color="#f4a20b"/><stop offset="0.196" stop-color="#f4ed0b"/><stop offset="0.216" stop-color="#e5f41a"/><stop offset="0.289" stop-color="#b6f449"/><stop offset="0.526" stop-color="#42f4bd"/><stop offset="0.588" stop-color="#29f4d6"/><stop offset="0.629" stop-color="#1df4e2"/><stop offset="0.680" stop-color="#1af4e5"/><stop offset="0.722" stop-color="#0beff4"/><stop offset="0.825" stop-color="#0bc2f4"/><stop offset="0.887" stop-color="#0ba6f4"/><stop offset="0.938" stop-color="#0ba2f4"/><stop offset="1.000" stop-color="#0bacf4"/></linearGradient><linearGradient id="ll48" gradientUnits="userSpaceOnUse" x1="91.0" x2="187.0" y1="0" y2="0"><stop offset="0.000" stop-color="#f4180b"/><stop offset="0.052" stop-color="#f4650b"/><stop offset="0.115" stop-color="#f4de0b"/><stop offset="0.125" stop-color="#f4a50b"/><stop offset="0.188" stop-color="#f3f40c"/><stop offset="0.229" stop-color="#ccf433"/><stop offset="0.333" stop-color="#97f468"/><stop offset="0.479" stop-color="#58f4a7"/><stop offset="0.531" stop-color="#44f4bb"/><stop offset="0.583" stop-color="#31f4ce"/><stop offset="0.625" stop-color="#24f4db"/><stop offset="0.677" stop-color="#22f4dd"/><stop offset="0.750" stop-color="#0bf2f4"/><stop offset="0.844" stop-color="#0bd1f4"/><stop offset="0.896" stop-color="#0bc6f4"/><stop offset="0.969" stop-color="#0bbcf4"/><stop offset="1.000" stop-color="#0bc5f4"/></linearGradient><linearGradient id="ll49" gradientUnits="userSpaceOnUse" x1="91.0" x2="187.0" y1="0" y2="0"><stop offset="0.000" stop-color="#f41b0b"/><stop offset="0.052" stop-color="#f46a0b"/><stop offset="0.104" stop-color="#f4d50b"/><stop offset="0.115" stop-color="#f4e70b"/><stop offset="0.125" stop-color="#f4a80b"/><stop offset="0.177" stop-color="#f4ec0b"/><stop offset="0.198" stop-color="#e1f41e"/><stop offset="0.250" stop-color="#b8f447"/><stop offset="0.417" stop-color="#74f48b"/><stop offset="0.469" stop-color="#63f49c"/><stop offset="0.521" stop-color="#4af4b5"/><stop offset="0.573" stop-color="#3ef4c1"/><stop offset="0.615" stop-color="#2bf4d4"/><stop offset="0.688" stop-color="#26f4d9"/><stop offset="0.750" stop-color="#19f4e6"/><stop offset="0.833" stop-color="#0bf0f4"/><stop offset="0.896" stop-color="#0bebf4"/><stop offset="0.969" stop-color="#0bdef4"/><stop offset="1.000" stop-color="#0be4f4"/></linearGradient><linearGradient id="ll50" gradientUnits="userSpaceOnUse" x1="91.0" x2="186.0" y1="0" y2="0"><stop offset="0.000" stop-color="#f41d0b"/><stop offset="0.053" stop-color="#f46d0b"/><stop offset="0.105" stop-color="#f4db0b"/><stop offset="0.116" stop-color="#f4ec0b"/><stop offset="0.126" stop-color="#f4ab0b"/><stop offset="0.179" stop-color="#f4f00b"/><stop offset="0.232" stop-color="#c0f43f"/><stop offset="0.316" stop-color="#97f468"/><stop offset="0.432" stop-color="#73f48c"/><stop offset="0.484" stop-color="#5ff4a0"/><stop offset="0.526" stop-color="#4ef4b1"/><stop offset="0.579" stop-color="#44f4bb"/><stop offset="0.632" stop-color="#30f4cf"/><stop offset="0.695" stop-color="#2ef4d1"/><stop offset="0.747" stop-color="#26f4d9"/><stop offset="0.884" stop-color="#27f4d8"/><stop offset="0.926" stop-color="#2bf4d4"/><stop offset="0.958" stop-color="#20f4df"/><stop offset="1.000" stop-color="#72f48d"/></linearGradient><linearGradient id="ll51" gradientUnits="userSpaceOnUse" x1="91.0" x2="186.0" y1="0" y2="0"><stop offset="0.000" stop-color="#f41f0b"/><stop offset="0.053" stop-color="#f46e0b"/><stop offset="0.105" stop-color="#f4de0b"/><stop offset="0.116" stop-color="#f4ef0b"/><stop offset="0.126" stop-color="#f4ad0b"/><stop offset="0.179" stop-color="#f4f30b"/><stop offset="0.221" stop-color="#c4f43b"/><stop offset="0.284" stop-color="#a0f45f"/><stop offset="0.421" stop-color="#76f489"/><stop offset="0.474" stop-color="#67f498"/><stop offset="0.526" stop-color="#51f4ae"/><stop offset="0.579" stop-color="#4af4b5"/><stop offset="0.632" stop-color="#37f4c8"/><stop offset="0.695" stop-color="#36f4c9"/><stop offset="0.747" stop-color="#33f4cc"/><stop offset="0.874" stop-color="#4af4b5"/><stop offset="0.916" stop-color="#5df4a2"/><stop offset="0.968" stop-color="#e1f41e"/><stop offset="0.979" stop-color="#f1f40e"/><stop offset="1.000" stop-color="#f4ed0b"/></linearGradient><linearGradient id="ll52" gradientUnits="userSpaceOnUse" x1="91.0" x2="185.0" y1="0" y2="0"><stop offset="0.000" stop-color="#f4200b"/><stop offset="0.053" stop-color="#f46d0b"/><stop offset="0.106" stop-color="#f4df0b"/><stop offset="0.117" stop-color="#f4f00b"/><stop offset="0.128" stop-color="#f4af0b"/><stop offset="0.181" stop-color="#f2f40d"/><stop offset="0.223" stop-color="#c2f43d"/><stop offset="0.287" stop-color="#9ff460"/><stop offset="0.436" stop-color="#77f488"/><stop offset="0.489" stop-color="#65f49a"/><stop offset="0.532" stop-color="#56f4a9"/><stop offset="0.585" stop-color="#51f4ae"/><stop offset="0.638" stop-color="#3ff4c0"/><stop offset="0.713" stop-color="#3ef4c1"/><stop offset="0.766" stop-color="#43f4bc"/><stop offset="0.851" stop-color="#5ef4a1"/><stop offset="0.862" stop-color="#69f496"/><stop offset="0.915" stop-color="#eef411"/><stop offset="0.947" stop-color="#f4e50b"/><stop offset="1.000" stop-color="#f4c90b"/></linearGradient><linearGradient id="ll53" gradientUnits="userSpaceOnUse" x1="92.0" x2="185.0" y1="0" y2="0"><stop offset="0.000" stop-color="#f42e0b"/><stop offset="0.043" stop-color="#f46a0b"/><stop offset="0.097" stop-color="#f4df0b"/><stop offset="0.108" stop-color="#f4f00b"/><stop offset="0.118" stop-color="#f4b10b"/><stop offset="0.172" stop-color="#f1f40e"/><stop offset="0.215" stop-color="#c1f43e"/><stop offset="0.280" stop-color="#9ff460"/><stop offset="0.430" stop-color="#7af485"/><stop offset="0.484" stop-color="#6bf494"/><stop offset="0.527" stop-color="#5df4a2"/><stop offset="0.581" stop-color="#5cf4a3"/><stop offset="0.634" stop-color="#4af4b5"/><stop offset="0.710" stop-color="#4af4b5"/><stop offset="0.753" stop-color="#4ef4b1"/><stop offset="0.796" stop-color="#64f49b"/><stop offset="0.839" stop-color="#dff420"/><stop offset="0.849" stop-color="#f2f40d"/><stop offset="1.000" stop-color="#f4a40b"/></linearGradient><linearGradient id="ll54" gradientUnits="userSpaceOnUse" x1="92.0" x2="184.0" y1="0" y2="0"><stop offset="0.000" stop-color="#f42d0b"/><stop offset="0.043" stop-color="#f4660b"/><stop offset="0.065" stop-color="#f4940b"/><stop offset="0.087" stop-color="#f4c90b"/><stop offset="0.109" stop-color="#f4ed0b"/><stop offset="0.120" stop-color="#f4b20b"/><stop offset="0.174" stop-color="#f1f40e"/><stop offset="0.217" stop-color="#c2f43d"/><stop offset="0.283" stop-color="#a1f45e"/><stop offset="0.435" stop-color="#81f47e"/><stop offset="0.489" stop-color="#74f48b"/><stop offset="0.533" stop-color="#69f496"/><stop offset="0.587" stop-color="#6bf494"/><stop offset="0.641" stop-color="#59f4a6"/><stop offset="0.717" stop-color="#59f4a6"/><stop offset="0.739" stop-color="#59f4a6"/><stop offset="0.793" stop-color="#f0f40f"/><stop offset="0.978" stop-color="#f48e0b"/><stop offset="1.000" stop-color="#f48d0b"/></linearGradient><linearGradient id="ll55" gradientUnits="userSpaceOnUse" x1="93.0" x2="184.0" y1="0" y2="0"><stop offset="0.000" stop-color="#f4370b"/><stop offset="0.033" stop-color="#f4610b"/><stop offset="0.055" stop-color="#f48f0b"/><stop offset="0.088" stop-color="#f4d80b"/><stop offset="0.099" stop-color="#f4e90b"/><stop offset="0.110" stop-color="#f4b30b"/><stop offset="0.165" stop-color="#f1f40e"/><stop offset="0.209" stop-color="#c3f43c"/><stop offset="0.275" stop-color="#a5f45a"/><stop offset="0.429" stop-color="#89f476"/><stop offset="0.527" stop-color="#7bf484"/><stop offset="0.582" stop-color="#7ff480"/><stop offset="0.637" stop-color="#6ff490"/><stop offset="0.681" stop-color="#71f48e"/><stop offset="0.692" stop-color="#79f486"/><stop offset="0.725" stop-color="#dff420"/><stop offset="0.736" stop-color="#f4f30b"/><stop offset="0.879" stop-color="#f49c0b"/><stop offset="0.923" stop-color="#f48d0b"/><stop offset="1.000" stop-color="#f48d0b"/></linearGradient><linearGradient id="ll56" gradientUnits="userSpaceOnUse" x1="93.0" x2="182.0" y1="0" y2="0"><stop offset="0.000" stop-color="#f4330b"/><stop offset="0.034" stop-color="#f45d0b"/><stop offset="0.090" stop-color="#f4d00b"/><stop offset="0.101" stop-color="#f4e20b"/><stop offset="0.112" stop-color="#f4b40b"/><stop offset="0.169" stop-color="#f1f40e"/><stop offset="0.213" stop-color="#c6f439"/><stop offset="0.281" stop-color="#aaf455"/><stop offset="0.438" stop-color="#95f46a"/><stop offset="0.551" stop-color="#94f46b"/><stop offset="0.607" stop-color="#95f46a"/><stop offset="0.652" stop-color="#8bf474"/><stop offset="0.663" stop-color="#9bf464"/><stop offset="0.685" stop-color="#dff420"/><stop offset="0.697" stop-color="#f4f30b"/><stop offset="0.831" stop-color="#f49d0b"/><stop offset="0.865" stop-color="#f48d0b"/><stop offset="1.000" stop-color="#f48d0b"/></linearGradient><linearGradient id="ll57" gradientUnits="userSpaceOnUse" x1="93.0" x2="176.0" y1="0" y2="0"><stop offset="0.000" stop-color="#f42f0b"/><stop offset="0.048" stop-color="#f46c0b"/><stop offset="0.108" stop-color="#f4db0b"/><stop offset="0.120" stop-color="#f4b50b"/><stop offset="0.181" stop-color="#f3f40c"/><stop offset="0.229" stop-color="#caf435"/><stop offset="0.289" stop-color="#b2f44d"/><stop offset="0.470" stop-color="#a2f45d"/><stop offset="0.651" stop-color="#b2f44d"/><stop offset="0.663" stop-color="#bdf442"/><stop offset="0.675" stop-color="#dff420"/><stop offset="0.687" stop-color="#f4f30b"/><stop offset="0.843" stop-color="#f4930b"/><stop offset="0.880" stop-color="#f48d0b"/><stop offset="1.000" stop-color="#f48d0b"/></linearGradient><linearGradient id="ll58" gradientUnits="userSpaceOnUse" x1="94.0" x2="170.0" y1="0" y2="0"><stop offset="0.000" stop-color="#f4370b"/><stop offset="0.039" stop-color="#f4650b"/><stop offset="0.105" stop-color="#f4d30b"/><stop offset="0.118" stop-color="#f4b50b"/><stop offset="0.184" stop-color="#f4f30b"/><stop offset="0.250" stop-color="#c8f437"/><stop offset="0.329" stop-color="#b5f44a"/><stop offset="0.500" stop-color="#b0f44f"/><stop offset="0.632" stop-color="#cef431"/><stop offset="0.645" stop-color="#e8f417"/><stop offset="0.658" stop-color="#f4f30b"/><stop offset="0.776" stop-color="#f4b50b"/><stop offset="0.855" stop-color="#f48d0b"/><stop offset="1.000" stop-color="#f48d0b"/></linearGradient><linearGradient id="ll59" gradientUnits="userSpaceOnUse" x1="94.0" x2="164.0" y1="0" y2="0"><stop offset="0.000" stop-color="#f4320b"/><stop offset="0.057" stop-color="#f4720b"/><stop offset="0.114" stop-color="#f4cb0b"/><stop offset="0.129" stop-color="#f4b40b"/><stop offset="0.200" stop-color="#f4f10b"/><stop offset="0.286" stop-color="#c8f437"/><stop offset="0.371" stop-color="#bcf443"/><stop offset="0.543" stop-color="#c0f43f"/><stop offset="0.586" stop-color="#cef431"/><stop offset="0.600" stop-color="#e6f419"/><stop offset="0.614" stop-color="#f3f40c"/><stop offset="0.814" stop-color="#f49f0b"/><stop offset="0.857" stop-color="#f48d0b"/><stop offset="1.000" stop-color="#f48d0b"/></linearGradient><linearGradient id="ll60" gradientUnits="userSpaceOnUse" x1="95.0" x2="159.0" y1="0" y2="0"><stop offset="0.000" stop-color="#f43b0b"/><stop offset="0.062" stop-color="#f47e0b"/><stop offset="0.109" stop-color="#f4c30b"/><stop offset="0.125" stop-color="#f4b40b"/><stop offset="0.203" stop-color="#f4ee0b"/><stop offset="0.250" stop-color="#dff420"/><stop offset="0.328" stop-color="#c9f436"/><stop offset="0.500" stop-color="#c9f436"/><stop offset="0.516" stop-color="#d1f42e"/><stop offset="0.531" stop-color="#e9f416"/><stop offset="0.547" stop-color="#f4f30b"/><stop offset="0.844" stop-color="#f48d0b"/><stop offset="1.000" stop-color="#f48d0b"/></linearGradient><linearGradient id="ll61" gradientUnits="userSpaceOnUse" x1="96.0" x2="154.0" y1="0" y2="0"><stop offset="0.000" stop-color="#f4450b"/><stop offset="0.069" stop-color="#f48c0b"/><stop offset="0.103" stop-color="#f4bc0b"/><stop offset="0.121" stop-color="#f4b30b"/><stop offset="0.224" stop-color="#f4f30b"/><stop offset="0.310" stop-color="#d6f429"/><stop offset="0.414" stop-color="#cef431"/><stop offset="0.431" stop-color="#cff430"/><stop offset="0.448" stop-color="#e6f419"/><stop offset="0.466" stop-color="#f4f30b"/><stop offset="0.793" stop-color="#f48d0b"/><stop offset="1.000" stop-color="#f48d0b"/></linearGradient><linearGradient id="ll62" gradientUnits="userSpaceOnUse" x1="97.0" x2="149.0" y1="0" y2="0"><stop offset="0.000" stop-color="#f4510b"/><stop offset="0.077" stop-color="#f49d0b"/><stop offset="0.096" stop-color="#f4b40b"/><stop offset="0.115" stop-color="#f4b20b"/><stop offset="0.231" stop-color="#f4ef0b"/><stop offset="0.327" stop-color="#ddf422"/><stop offset="0.346" stop-color="#daf425"/><stop offset="0.365" stop-color="#f1f40e"/><stop offset="0.731" stop-color="#f48d0b"/><stop offset="1.000" stop-color="#f48d0b"/></linearGradient><linearGradient id="ll63" gradientUnits="userSpaceOnUse" x1="97.0" x2="142.0" y1="0" y2="0"><stop offset="0.000" stop-color="#f44f0b"/><stop offset="0.089" stop-color="#f4970b"/><stop offset="0.133" stop-color="#f4c00b"/><stop offset="0.156" stop-color="#f4bc0b"/><stop offset="0.289" stop-color="#f4f00b"/><stop offset="0.689" stop-color="#f48d0b"/><stop offset="1.000" stop-color="#f48d0b"/></linearGradient><linearGradient id="ll64" gradientUnits="userSpaceOnUse" x1="98.0" x2="135.0" y1="0" y2="0"><stop offset="0.000" stop-color="#f45d0b"/><stop offset="0.135" stop-color="#f4b80b"/><stop offset="0.162" stop-color="#f4b90b"/><stop offset="0.243" stop-color="#f4d50b"/><stop offset="0.270" stop-color="#f4d80b"/><stop offset="0.622" stop-color="#f48d0b"/><stop offset="1.000" stop-color="#f48d0b"/></linearGradient><linearGradient id="ll65" gradientUnits="userSpaceOnUse" x1="99.0" x2="128.0" y1="0" y2="0"><stop offset="0.000" stop-color="#f46b0b"/><stop offset="0.138" stop-color="#f4b00b"/><stop offset="0.207" stop-color="#f4c00b"/><stop offset="0.552" stop-color="#f48d0b"/><stop offset="1.000" stop-color="#f48d0b"/></linearGradient><linearGradient id="ll66" gradientUnits="userSpaceOnUse" x1="101.0" x2="121.0" y1="0" y2="0"><stop offset="0.000" stop-color="#f4890b"/><stop offset="0.100" stop-color="#f4a90b"/><stop offset="0.350" stop-color="#f48d0b"/><stop offset="1.000" stop-color="#f48d0b"/></linearGradient><linearGradient id="ll67" gradientUnits="userSpaceOnUse" x1="102.0" x2="115.0" y1="0" y2="0"><stop offset="0.000" stop-color="#f4940b"/><stop offset="0.077" stop-color="#f4a20b"/><stop offset="0.154" stop-color="#f48d0b"/><stop offset="1.000" stop-color="#f48d0b"/></linearGradient><linearGradient id="ll68" gradientUnits="userSpaceOnUse" x1="103.0" x2="108.0" y1="0" y2="0"><stop offset="0.000" stop-color="#f49c0b"/><stop offset="0.200" stop-color="#f48d0b"/><stop offset="1.000" stop-color="#f48d0b"/></linearGradient></defs><rect x="165.5" y="87" width="22.0" height="1" fill="url(#ll0)"/><rect x="157.5" y="88" width="30.0" height="1" fill="url(#ll1)"/><rect x="152.5" y="89" width="36.0" height="1" fill="url(#ll2)"/><rect x="147.5" y="90" width="42.0" height="1" fill="url(#ll3)"/><rect x="143.5" y="91" width="46.0" height="1" fill="url(#ll4)"/><rect x="140.5" y="92" width="50.0" height="1" fill="url(#ll5)"/><rect x="136.5" y="93" width="54.0" height="1" fill="url(#ll6)"/><rect x="132.5" y="94" width="59.0" height="1" fill="url(#ll7)"/><rect x="128.5" y="95" width="63.0" height="1" fill="url(#ll8)"/><rect x="125.5" y="96" width="67.0" height="1" fill="url(#ll9)"/><rect x="122.5" y="97" width="70.0" height="1" fill="url(#ll10)"/><rect x="120.5" y="98" width="72.0" height="1" fill="url(#ll11)"/><rect x="117.5" y="99" width="75.0" height="1" fill="url(#ll12)"/><rect x="115.5" y="100" width="77.0" height="1" fill="url(#ll13)"/><rect x="113.5" y="101" width="80.0" height="1" fill="url(#ll14)"/><rect x="111.5" y="102" width="82.0" height="1" fill="url(#ll15)"/><rect x="110.5" y="103" width="83.0" height="1" fill="url(#ll16)"/><rect x="108.5" y="104" width="85.0" height="1" fill="url(#ll17)"/><rect x="106.5" y="105" width="87.0" height="1" fill="url(#ll18)"/><rect x="104.5" y="106" width="89.0" height="1" fill="url(#ll19)"/><rect x="102.5" y="107" width="91.0" height="1" fill="url(#ll20)"/><rect x="100.5" y="108" width="93.0" height="1" fill="url(#ll21)"/><rect x="99.5" y="109" width="94.0" height="1" fill="url(#ll22)"/><rect x="97.5" y="110" width="96.0" height="1" fill="url(#ll23)"/><rect x="95.5" y="111" width="98.0" height="1" fill="url(#ll24)"/><rect x="94.5" y="112" width="99.0" height="1" fill="url(#ll25)"/><rect x="93.5" y="113" width="100.0" height="1" fill="url(#ll26)"/><rect x="92.5" y="114" width="101.0" height="1" fill="url(#ll27)"/><rect x="91.5" y="115" width="101.0" height="1" fill="url(#ll28)"/><rect x="91.5" y="116" width="101.0" height="1" fill="url(#ll29)"/><rect x="90.5" y="117" width="102.0" height="1" fill="url(#ll30)"/><rect x="89.5" y="118" width="103.0" height="1" fill="url(#ll31)"/><rect x="89.5" y="119" width="103.0" height="1" fill="url(#ll32)"/><rect x="88.5" y="120" width="103.0" height="1" fill="url(#ll33)"/><rect x="88.5" y="121" width="103.0" height="1" fill="url(#ll34)"/><rect x="88.5" y="122" width="103.0" height="1" fill="url(#ll35)"/><rect x="88.5" y="123" width="103.0" height="1" fill="url(#ll36)"/><rect x="88.5" y="124" width="103.0" height="1" fill="url(#ll37)"/><rect x="88.5" y="125" width="102.0" height="1" fill="url(#ll38)"/><rect x="88.5" y="126" width="102.0" height="1" fill="url(#ll39)"/><rect x="88.5" y="127" width="102.0" height="1" fill="url(#ll40)"/><rect x="88.5" y="128" width="102.0" height="1" fill="url(#ll41)"/><rect x="88.5" y="129" width="102.0" height="1" fill="url(#ll42)"/><rect x="88.5" y="130" width="101.0" height="1" fill="url(#ll43)"/><rect x="88.5" y="131" width="101.0" height="1" fill="url(#ll44)"/><rect x="88.5" y="132" width="101.0" height="1" fill="url(#ll45)"/><rect x="88.5" y="133" width="101.0" height="1" fill="url(#ll46)"/><rect x="88.5" y="134" width="100.0" height="1" fill="url(#ll47)"/><rect x="89.5" y="135" width="99.0" height="1" fill="url(#ll48)"/><rect x="89.5" y="136" width="99.0" height="1" fill="url(#ll49)"/><rect x="89.5" y="137" width="98.0" height="1" fill="url(#ll50)"/><rect x="89.5" y="138" width="98.0" height="1" fill="url(#ll51)"/><rect x="89.5" y="139" width="97.0" height="1" fill="url(#ll52)"/><rect x="90.5" y="140" width="96.0" height="1" fill="url(#ll53)"/><rect x="90.5" y="141" width="95.0" height="1" fill="url(#ll54)"/><rect x="91.5" y="142" width="94.0" height="1" fill="url(#ll55)"/><rect x="91.5" y="143" width="92.0" height="1" fill="url(#ll56)"/><rect x="91.5" y="144" width="86.0" height="1" fill="url(#ll57)"/><rect x="92.5" y="145" width="79.0" height="1" fill="url(#ll58)"/><rect x="92.5" y="146" width="73.0" height="1" fill="url(#ll59)"/><rect x="93.5" y="147" width="67.0" height="1" fill="url(#ll60)"/><rect x="94.5" y="148" width="61.0" height="1" fill="url(#ll61)"/><rect x="95.5" y="149" width="55.0" height="1" fill="url(#ll62)"/><rect x="95.5" y="150" width="48.0" height="1" fill="url(#ll63)"/><rect x="96.5" y="151" width="40.0" height="1" fill="url(#ll64)"/><rect x="97.5" y="152" width="32.0" height="1" fill="url(#ll65)"/><rect x="99.5" y="153" width="23.0" height="1" fill="url(#ll66)"/><rect x="100.5" y="154" width="16.0" height="1" fill="url(#ll67)"/><rect x="101.5" y="155" width="8.0" height="1" fill="url(#ll68)"/>
</g>
<defs><radialGradient id="lell" cx="0.45" cy="0.48" r="0.53" fx="0.3" fy="0.45"><stop offset="0" stop-color="#2a7aa8"/><stop offset="0.55" stop-color="#2266b0"/><stop offset="0.85" stop-color="#1c4cb8"/><stop offset="1" stop-color="#1430a8"/></radialGradient></defs>
<ellipse cx="147.6" cy="126.6" rx="9.3" ry="10.4" transform="rotate(24 147.6 126.6)" fill="url(#lell)"/>
<line x1="34.3" y1="195" x2="34.3" y2="53.9" stroke="#b0b0b0" stroke-width="1.5"/>
<line x1="34.3" y1="195" x2="127.5" y2="250.2" stroke="#4a4a4a" stroke-width="0.9"/>
<line x1="127.5" y1="250.2" x2="254.3" y2="209.3" stroke="#4a4a4a" stroke-width="0.9"/>
<line x1="34.3" y1="61.25" x2="31.3" y2="59.95" stroke="#4a4a4a" stroke-width="0.8"/>
<text x="27" y="59.78" font-size="8.7" text-anchor="end" fill="#262626" dominant-baseline="middle">60</text>
<line x1="34.3" y1="80.7" x2="31.3" y2="79.4" stroke="#4a4a4a" stroke-width="0.8"/>
<text x="27" y="79.32" font-size="8.7" text-anchor="end" fill="#262626" dominant-baseline="middle">40</text>
<line x1="34.3" y1="100.15" x2="31.3" y2="98.85" stroke="#4a4a4a" stroke-width="0.8"/>
<text x="27" y="98.86" font-size="8.7" text-anchor="end" fill="#262626" dominant-baseline="middle">20</text>
<line x1="34.3" y1="119.6" x2="31.3" y2="118.3" stroke="#4a4a4a" stroke-width="0.8"/>
<text x="27" y="118.4" font-size="8.7" text-anchor="end" fill="#262626" dominant-baseline="middle">0</text>
<line x1="34.3" y1="139.05" x2="31.3" y2="137.75" stroke="#4a4a4a" stroke-width="0.8"/>
<text x="27" y="137.94" font-size="8.7" text-anchor="end" fill="#262626" dominant-baseline="middle">-20</text>
<line x1="34.3" y1="158.5" x2="31.3" y2="157.2" stroke="#4a4a4a" stroke-width="0.8"/>
<text x="27" y="157.48" font-size="8.7" text-anchor="end" fill="#262626" dominant-baseline="middle">-40</text>
<line x1="34.3" y1="177.95" x2="31.3" y2="176.65" stroke="#4a4a4a" stroke-width="0.8"/>
<text x="27" y="177.02" font-size="8.7" text-anchor="end" fill="#262626" dominant-baseline="middle">-60</text>
<line x1="47.6" y1="202.7" x2="44.6" y2="204.2" stroke="#4a4a4a" stroke-width="0.8"/>
<line x1="79.6" y1="221.9" x2="76.6" y2="223.4" stroke="#4a4a4a" stroke-width="0.8"/>
<line x1="111.6" y1="241.1" x2="108.6" y2="242.6" stroke="#4a4a4a" stroke-width="0.8"/>
<text x="40.4" y="212.1" font-size="8.7" text-anchor="end" fill="#262626" dominant-baseline="middle">50</text>
<text x="72.4" y="231.3" font-size="8.7" text-anchor="end" fill="#262626" dominant-baseline="middle">0</text>
<text x="104.4" y="250.5" font-size="8.7" text-anchor="end" fill="#262626" dominant-baseline="middle">-50</text>
<line x1="150.9" y1="242.7" x2="153.3" y2="244.4" stroke="#4a4a4a" stroke-width="0.8"/>
<line x1="194.2" y1="228.7" x2="196.6" y2="230.4" stroke="#4a4a4a" stroke-width="0.8"/>
<line x1="237.6" y1="214.7" x2="240" y2="216.4" stroke="#4a4a4a" stroke-width="0.8"/>
<text x="156.9" y="254.1" font-size="8.7" text-anchor="start" fill="#262626" dominant-baseline="middle">50</text>
<text x="200.2" y="240.1" font-size="8.7" text-anchor="start" fill="#262626" dominant-baseline="middle">0</text>
<text x="243.6" y="226.1" font-size="8.7" text-anchor="start" fill="#262626" dominant-baseline="middle">-50</text>
<text x="58.8" y="262.8" font-size="11" text-anchor="middle" font-weight="bold" fill="#262626" >X (km)</text>
<text x="204.3" y="266.4" font-size="11" text-anchor="middle" font-weight="bold" fill="#262626" >Y (km)</text>
<text transform="translate(8.6,124.2) rotate(-90)" font-size="10.8" font-weight="bold" text-anchor="middle" fill="#262626">Z (km)</text>
<text transform="translate(144,9.4) scale(1.12,1)" font-size="11.65" font-weight="bold" text-anchor="middle" fill="#000">Feasible Solution Set</text>
<rect x="176.2" y="20.4" width="112.4" height="45.2" fill="#fff" stroke="#8c8c8c" stroke-width="0.9"/>
<rect x="179" y="23.7" width="27.9" height="7.1" fill="#8080ff"/>
<text x="208.4" y="30.7" font-size="8.45" text-anchor="start" fill="#262626" >r=10km Boundary</text>
<rect x="179" y="34.35" width="27.9" height="7.1" fill="#e3e3fb"/>
<text x="208.4" y="41.3" font-size="8.45" text-anchor="start" fill="#262626" >r=50km Boundary</text>
<circle cx="192.95" cy="48.9" r="3" fill="#3de8b0"/>
<text x="208.4" y="51.9" font-size="8.45" text-anchor="start" fill="#262626" >Manoeuvre Solution</text>
<line x1="179" y1="59.4" x2="199.9" y2="59.4" stroke="#fb8c00" stroke-width="2.0"/>
<polygon points="197.9,56.5 207.9,59.4 197.9,62.3" fill="#fb8c00"/>
<text x="208.4" y="62.6" font-size="8.45" text-anchor="start" fill="#262626" >Sun Vector Direction</text>
<defs><linearGradient id="jet1" x1="0" y1="1" x2="0" y2="0"><stop offset="0" stop-color="#000085"/><stop offset="0.11" stop-color="#0000ff"/><stop offset="0.36" stop-color="#00ffff"/><stop offset="0.61" stop-color="#ffff00"/><stop offset="0.86" stop-color="#ff0000"/><stop offset="1" stop-color="#800000"/></linearGradient></defs>
<rect x="298.1" y="12.3" width="14.9" height="238.3" fill="url(#jet1)" stroke="#262626" stroke-width="0.5"/>
<line x1="310.5" y1="42.82" x2="313" y2="42.82" stroke="#262626" stroke-width="0.6"/>
<text x="316.5" y="43.92" font-size="8.7" text-anchor="start" fill="#262626" dominant-baseline="middle">7</text>
<line x1="310.5" y1="75.28" x2="313" y2="75.28" stroke="#262626" stroke-width="0.6"/>
<text x="316.5" y="76.38" font-size="8.7" text-anchor="start" fill="#262626" dominant-baseline="middle">6.5</text>
<line x1="310.5" y1="107.75" x2="313" y2="107.75" stroke="#262626" stroke-width="0.6"/>
<text x="316.5" y="108.85" font-size="8.7" text-anchor="start" fill="#262626" dominant-baseline="middle">6</text>
<line x1="310.5" y1="140.22" x2="313" y2="140.22" stroke="#262626" stroke-width="0.6"/>
<text x="316.5" y="141.32" font-size="8.7" text-anchor="start" fill="#262626" dominant-baseline="middle">5.5</text>
<line x1="310.5" y1="172.68" x2="313" y2="172.68" stroke="#262626" stroke-width="0.6"/>
<text x="316.5" y="173.78" font-size="8.7" text-anchor="start" fill="#262626" dominant-baseline="middle">5</text>
<line x1="310.5" y1="205.15" x2="313" y2="205.15" stroke="#262626" stroke-width="0.6"/>
<text x="316.5" y="206.25" font-size="8.7" text-anchor="start" fill="#262626" dominant-baseline="middle">4.5</text>
<line x1="310.5" y1="237.61" x2="313" y2="237.61" stroke="#262626" stroke-width="0.6"/>
<text x="316.5" y="238.71" font-size="8.7" text-anchor="start" fill="#262626" dominant-baseline="middle">4</text>
<text transform="translate(342,131.7) rotate(-90)" font-size="11.2" font-weight="bold" text-anchor="middle" fill="#262626">&#916;v (m/s)</text>
<line x1="418.56" y1="19.3" x2="418.56" y2="237" stroke="#dbdbdb" stroke-width="0.8" stroke-dasharray="1.8 1.6" fill="none"/>
<line x1="445.82" y1="19.3" x2="445.82" y2="237" stroke="#dbdbdb" stroke-width="0.8" stroke-dasharray="1.8 1.6" fill="none"/>
<line x1="473.09" y1="19.3" x2="473.09" y2="237" stroke="#dbdbdb" stroke-width="0.8" stroke-dasharray="1.8 1.6" fill="none"/>
<line x1="500.35" y1="19.3" x2="500.35" y2="237" stroke="#dbdbdb" stroke-width="0.8" stroke-dasharray="1.8 1.6" fill="none"/>
<line x1="527.61" y1="19.3" x2="527.61" y2="237" stroke="#dbdbdb" stroke-width="0.8" stroke-dasharray="1.8 1.6" fill="none"/>
<line x1="554.88" y1="19.3" x2="554.88" y2="237" stroke="#dbdbdb" stroke-width="0.8" stroke-dasharray="1.8 1.6" fill="none"/>
<line x1="582.14" y1="19.3" x2="582.14" y2="237" stroke="#dbdbdb" stroke-width="0.8" stroke-dasharray="1.8 1.6" fill="none"/>
<line x1="609.4" y1="19.3" x2="609.4" y2="237" stroke="#dbdbdb" stroke-width="0.8" stroke-dasharray="1.8 1.6" fill="none"/>
<line x1="391.3" y1="237" x2="609.4" y2="237" stroke="#dbdbdb" stroke-width="0.8" stroke-dasharray="1.8 1.6" fill="none"/>
<line x1="391.3" y1="209.79" x2="609.4" y2="209.79" stroke="#dbdbdb" stroke-width="0.8" stroke-dasharray="1.8 1.6" fill="none"/>
<line x1="391.3" y1="182.58" x2="609.4" y2="182.58" stroke="#dbdbdb" stroke-width="0.8" stroke-dasharray="1.8 1.6" fill="none"/>
<line x1="391.3" y1="155.36" x2="609.4" y2="155.36" stroke="#dbdbdb" stroke-width="0.8" stroke-dasharray="1.8 1.6" fill="none"/>
<line x1="391.3" y1="128.15" x2="609.4" y2="128.15" stroke="#dbdbdb" stroke-width="0.8" stroke-dasharray="1.8 1.6" fill="none"/>
<line x1="391.3" y1="100.94" x2="609.4" y2="100.94" stroke="#dbdbdb" stroke-width="0.8" stroke-dasharray="1.8 1.6" fill="none"/>
<line x1="391.3" y1="73.72" x2="609.4" y2="73.72" stroke="#dbdbdb" stroke-width="0.8" stroke-dasharray="1.8 1.6" fill="none"/>
<line x1="391.3" y1="46.51" x2="609.4" y2="46.51" stroke="#dbdbdb" stroke-width="0.8" stroke-dasharray="1.8 1.6" fill="none"/>
<line x1="391.3" y1="19.3" x2="609.4" y2="19.3" stroke="#dbdbdb" stroke-width="0.8" stroke-dasharray="1.8 1.6" fill="none"/>
<defs>
<radialGradient id="rsph" cx="0.5" cy="0.5" r="0.5">
 <stop offset="0" stop-color="#acace6"/><stop offset="1" stop-color="#aeaee4"/>
</radialGradient>
<clipPath id="rclip"><polygon points="420,90.9 580,111.6 580,148.4 420,169.5"/></clipPath>
<clipPath id="rcirc"><circle cx="500.4" cy="127.8" r="69.0"/></clipPath>
<linearGradient id="rbase" gradientUnits="userSpaceOnUse" x1="0" y1="92" x2="0" y2="167">
 <stop offset="0" stop-color="#e8b810"/><stop offset="0.22" stop-color="#eaa010"/><stop offset="0.36" stop-color="#f06000"/>
 <stop offset="0.5" stop-color="#e01000"/><stop offset="0.64" stop-color="#f06000"/><stop offset="0.78" stop-color="#eaa010"/><stop offset="1" stop-color="#e8b810"/>
</linearGradient>
<radialGradient id="rtongue" gradientUnits="userSpaceOnUse" cx="0" cy="0" r="1" gradientTransform="translate(535,129) scale(70,17)">
 <stop offset="0" stop-color="#8a0000"/><stop offset="0.4" stop-color="#a00000"/><stop offset="0.75" stop-color="#d80000" stop-opacity="0.7"/><stop offset="1" stop-color="#e01000" stop-opacity="0"/>
</radialGradient>
<radialGradient id="rcap" gradientUnits="userSpaceOnUse" cx="0" cy="0" r="1" gradientTransform="translate(430,128) scale(30,48)">
 <stop offset="0" stop-color="#00009a"/><stop offset="0.12" stop-color="#0000ff"/><stop offset="0.38" stop-color="#00ffff"/>
 <stop offset="0.6" stop-color="#80ff80"/><stop offset="0.8" stop-color="#ffff00"/><stop offset="0.92" stop-color="#ffc000"/><stop offset="1" stop-color="#ffa000" stop-opacity="0"/>
</radialGradient>
<linearGradient id="rend" gradientUnits="userSpaceOnUse" x1="550" y1="0" x2="569" y2="0">
 <stop offset="0" stop-color="#ff0000" stop-opacity="0"/><stop offset="0.6" stop-color="#ff0000" stop-opacity="0.9"/><stop offset="0.9" stop-color="#ff2000"/><stop offset="1" stop-color="#ff8000"/>
</linearGradient>
<filter id="rblur" x="-10%" y="-10%" width="120%" height="120%"><feGaussianBlur stdDeviation="1.2"/></filter>
</defs>
<circle cx="500.4" cy="127.8" r="68.1" fill="url(#rsph)" fill-opacity="0.62"/>
<g clip-path="url(#rcirc)"><g clip-path="url(#rclip)">
<defs><linearGradient id="rr0" gradientUnits="userSpaceOnUse" x1="440.0" x2="443.0" y1="0" y2="0"><stop offset="0.000" stop-color="#e6d505"/><stop offset="0.333" stop-color="#e6bf05"/><stop offset="1.000" stop-color="#e6b705"/></linearGradient><linearGradient id="rr1" gradientUnits="userSpaceOnUse" x1="439.0" x2="450.0" y1="0" y2="0"><stop offset="0.000" stop-color="#05dde6"/><stop offset="0.091" stop-color="#e6d705"/><stop offset="0.273" stop-color="#e6b805"/><stop offset="1.000" stop-color="#e6b605"/></linearGradient><linearGradient id="rr2" gradientUnits="userSpaceOnUse" x1="439.0" x2="458.0" y1="0" y2="0"><stop offset="0.000" stop-color="#05dfe7"/><stop offset="0.053" stop-color="#e7da05"/><stop offset="0.158" stop-color="#e6b805"/><stop offset="1.000" stop-color="#e6b505"/></linearGradient><linearGradient id="rr3" gradientUnits="userSpaceOnUse" x1="438.0" x2="466.0" y1="0" y2="0"><stop offset="0.000" stop-color="#05b3e8"/><stop offset="0.036" stop-color="#05e0e8"/><stop offset="0.071" stop-color="#e8dd05"/><stop offset="0.143" stop-color="#e8be05"/><stop offset="0.393" stop-color="#e6b705"/><stop offset="1.000" stop-color="#e6b405"/></linearGradient><linearGradient id="rr4" gradientUnits="userSpaceOnUse" x1="438.0" x2="474.0" y1="0" y2="0"><stop offset="0.000" stop-color="#05b4e9"/><stop offset="0.028" stop-color="#05e1e9"/><stop offset="0.056" stop-color="#e9df05"/><stop offset="0.139" stop-color="#e9ba05"/><stop offset="1.000" stop-color="#e6b205"/></linearGradient><linearGradient id="rr5" gradientUnits="userSpaceOnUse" x1="437.0" x2="481.0" y1="0" y2="0"><stop offset="0.000" stop-color="#0588eb"/><stop offset="0.045" stop-color="#05e2ea"/><stop offset="0.068" stop-color="#eae805"/><stop offset="0.136" stop-color="#eabf05"/><stop offset="0.341" stop-color="#e8b805"/><stop offset="1.000" stop-color="#e6b105"/></linearGradient><linearGradient id="rr6" gradientUnits="userSpaceOnUse" x1="437.0" x2="489.0" y1="0" y2="0"><stop offset="0.000" stop-color="#0589ec"/><stop offset="0.038" stop-color="#05e3eb"/><stop offset="0.058" stop-color="#beeb33"/><stop offset="0.077" stop-color="#ebe505"/><stop offset="0.135" stop-color="#ebbc05"/><stop offset="1.000" stop-color="#e6b005"/></linearGradient><linearGradient id="rr7" gradientUnits="userSpaceOnUse" x1="436.0" x2="497.0" y1="0" y2="0"><stop offset="0.000" stop-color="#055ced"/><stop offset="0.049" stop-color="#05e4ec"/><stop offset="0.066" stop-color="#a0ec52"/><stop offset="0.082" stop-color="#dcec15"/><stop offset="0.098" stop-color="#ece305"/><stop offset="0.148" stop-color="#ecbb05"/><stop offset="1.000" stop-color="#e6ae05"/></linearGradient><linearGradient id="rr8" gradientUnits="userSpaceOnUse" x1="436.0" x2="505.0" y1="0" y2="0"><stop offset="0.000" stop-color="#055cee"/><stop offset="0.043" stop-color="#05e5ed"/><stop offset="0.058" stop-color="#8bed67"/><stop offset="0.087" stop-color="#eded06"/><stop offset="0.145" stop-color="#edbb05"/><stop offset="1.000" stop-color="#e6ad05"/></linearGradient><linearGradient id="rr9" gradientUnits="userSpaceOnUse" x1="436.0" x2="512.0" y1="0" y2="0"><stop offset="0.000" stop-color="#055def"/><stop offset="0.039" stop-color="#05e6ee"/><stop offset="0.053" stop-color="#7dee77"/><stop offset="0.079" stop-color="#d0ee23"/><stop offset="0.092" stop-color="#eeeb05"/><stop offset="0.132" stop-color="#eec205"/><stop offset="0.158" stop-color="#eebb05"/><stop offset="1.000" stop-color="#e6aa05"/></linearGradient><linearGradient id="rr10" gradientUnits="userSpaceOnUse" x1="435.0" x2="520.0" y1="0" y2="0"><stop offset="0.000" stop-color="#052ff0"/><stop offset="0.047" stop-color="#05e7ef"/><stop offset="0.059" stop-color="#60ef94"/><stop offset="0.071" stop-color="#97ef5d"/><stop offset="0.094" stop-color="#dfef15"/><stop offset="0.106" stop-color="#efe805"/><stop offset="0.141" stop-color="#efbf05"/><stop offset="0.600" stop-color="#eaad05"/><stop offset="0.965" stop-color="#e6a705"/><stop offset="1.000" stop-color="#e6a405"/></linearGradient><linearGradient id="rr11" gradientUnits="userSpaceOnUse" x1="435.0" x2="528.0" y1="0" y2="0"><stop offset="0.000" stop-color="#052ff1"/><stop offset="0.043" stop-color="#05e8f0"/><stop offset="0.054" stop-color="#4df0a8"/><stop offset="0.065" stop-color="#8bf06a"/><stop offset="0.097" stop-color="#ebf00a"/><stop offset="0.140" stop-color="#f0bc05"/><stop offset="0.581" stop-color="#ebaa05"/><stop offset="0.871" stop-color="#e6a705"/><stop offset="1.000" stop-color="#e69f05"/></linearGradient><linearGradient id="rr12" gradientUnits="userSpaceOnUse" x1="434.0" x2="536.0" y1="0" y2="0"><stop offset="0.000" stop-color="#0505ee"/><stop offset="0.049" stop-color="#05e9f1"/><stop offset="0.059" stop-color="#41f1b6"/><stop offset="0.069" stop-color="#82f174"/><stop offset="0.108" stop-color="#f1ef05"/><stop offset="0.147" stop-color="#f0ba05"/><stop offset="0.539" stop-color="#eca505"/><stop offset="0.814" stop-color="#e7a605"/><stop offset="1.000" stop-color="#e69905"/></linearGradient><linearGradient id="rr13" gradientUnits="userSpaceOnUse" x1="434.0" x2="543.0" y1="0" y2="0"><stop offset="0.000" stop-color="#0505ef"/><stop offset="0.046" stop-color="#05eaf2"/><stop offset="0.055" stop-color="#38f2bf"/><stop offset="0.064" stop-color="#77f280"/><stop offset="0.101" stop-color="#e3f214"/><stop offset="0.110" stop-color="#f2ec05"/><stop offset="0.147" stop-color="#f1ba05"/><stop offset="0.495" stop-color="#eda005"/><stop offset="0.789" stop-color="#e8a305"/><stop offset="1.000" stop-color="#e69205"/></linearGradient><linearGradient id="rr14" gradientUnits="userSpaceOnUse" x1="434.0" x2="551.0" y1="0" y2="0"><stop offset="0.000" stop-color="#0505f0"/><stop offset="0.043" stop-color="#05eaf3"/><stop offset="0.051" stop-color="#32f3c6"/><stop offset="0.060" stop-color="#68f38f"/><stop offset="0.068" stop-color="#8cf36c"/><stop offset="0.103" stop-color="#ebf20c"/><stop offset="0.120" stop-color="#f2dc05"/><stop offset="0.145" stop-color="#f2b905"/><stop offset="0.462" stop-color="#ef9905"/><stop offset="0.786" stop-color="#e99d05"/><stop offset="1.000" stop-color="#e68905"/></linearGradient><linearGradient id="rr15" gradientUnits="userSpaceOnUse" x1="433.0" x2="559.0" y1="0" y2="0"><stop offset="0.000" stop-color="#0505cd"/><stop offset="0.008" stop-color="#0505f1"/><stop offset="0.048" stop-color="#05ebf4"/><stop offset="0.056" stop-color="#2df4cc"/><stop offset="0.063" stop-color="#5df49b"/><stop offset="0.071" stop-color="#85f374"/><stop offset="0.111" stop-color="#f3f305"/><stop offset="0.143" stop-color="#f3bd05"/><stop offset="0.175" stop-color="#f3b505"/><stop offset="0.429" stop-color="#f09205"/><stop offset="0.833" stop-color="#e89605"/><stop offset="1.000" stop-color="#e68005"/></linearGradient><linearGradient id="rr16" gradientUnits="userSpaceOnUse" x1="433.0" x2="567.0" y1="0" y2="0"><stop offset="0.000" stop-color="#0505cd"/><stop offset="0.007" stop-color="#0505f1"/><stop offset="0.045" stop-color="#05ecf4"/><stop offset="0.052" stop-color="#29f4d0"/><stop offset="0.067" stop-color="#7ff47a"/><stop offset="0.104" stop-color="#e6f413"/><stop offset="0.112" stop-color="#f4f005"/><stop offset="0.142" stop-color="#f4ba05"/><stop offset="0.403" stop-color="#f18a05"/><stop offset="0.828" stop-color="#e88f05"/><stop offset="0.985" stop-color="#e67905"/><stop offset="0.993" stop-color="#e6ac05"/><stop offset="1.000" stop-color="#e6cc05"/></linearGradient><linearGradient id="rr17" gradientUnits="userSpaceOnUse" x1="433.0" x2="568.0" y1="0" y2="0"><stop offset="0.000" stop-color="#0505ce"/><stop offset="0.007" stop-color="#0505f2"/><stop offset="0.044" stop-color="#05edf5"/><stop offset="0.052" stop-color="#26f5d4"/><stop offset="0.067" stop-color="#76f584"/><stop offset="0.111" stop-color="#edf50d"/><stop offset="0.126" stop-color="#f5df05"/><stop offset="0.148" stop-color="#f4b705"/><stop offset="0.259" stop-color="#f39f05"/><stop offset="0.400" stop-color="#f28105"/><stop offset="0.852" stop-color="#e98805"/><stop offset="0.978" stop-color="#e67905"/><stop offset="0.985" stop-color="#e69b05"/><stop offset="0.993" stop-color="#e6cc05"/><stop offset="1.000" stop-color="#e6cc05"/></linearGradient><linearGradient id="rr18" gradientUnits="userSpaceOnUse" x1="433.0" x2="568.0" y1="0" y2="0"><stop offset="0.000" stop-color="#0505ce"/><stop offset="0.007" stop-color="#0505f3"/><stop offset="0.044" stop-color="#05edf6"/><stop offset="0.052" stop-color="#23f6d8"/><stop offset="0.067" stop-color="#6df68e"/><stop offset="0.074" stop-color="#88f673"/><stop offset="0.119" stop-color="#f4f507"/><stop offset="0.156" stop-color="#f5b405"/><stop offset="0.230" stop-color="#f5a505"/><stop offset="0.393" stop-color="#f37905"/><stop offset="0.667" stop-color="#ef7b05"/><stop offset="0.881" stop-color="#ea8005"/><stop offset="0.978" stop-color="#e77905"/><stop offset="0.985" stop-color="#e78c05"/><stop offset="0.993" stop-color="#e7c705"/><stop offset="1.000" stop-color="#e6cc05"/></linearGradient><linearGradient id="rr19" gradientUnits="userSpaceOnUse" x1="432.0" x2="568.0" y1="0" y2="0"><stop offset="0.000" stop-color="#0505aa"/><stop offset="0.015" stop-color="#0505f3"/><stop offset="0.051" stop-color="#05eef6"/><stop offset="0.059" stop-color="#21f6da"/><stop offset="0.081" stop-color="#83f678"/><stop offset="0.132" stop-color="#f6f305"/><stop offset="0.169" stop-color="#f6b205"/><stop offset="0.235" stop-color="#f5a305"/><stop offset="0.397" stop-color="#f47005"/><stop offset="0.640" stop-color="#f16d05"/><stop offset="0.904" stop-color="#ec7805"/><stop offset="0.978" stop-color="#e97505"/><stop offset="0.985" stop-color="#e97b05"/><stop offset="0.993" stop-color="#e9ba05"/><stop offset="1.000" stop-color="#e9ce05"/></linearGradient><linearGradient id="rr20" gradientUnits="userSpaceOnUse" x1="432.0" x2="569.0" y1="0" y2="0"><stop offset="0.000" stop-color="#0505ab"/><stop offset="0.015" stop-color="#0505f4"/><stop offset="0.051" stop-color="#05eef7"/><stop offset="0.058" stop-color="#1ff7dd"/><stop offset="0.080" stop-color="#7ef77e"/><stop offset="0.131" stop-color="#eff70c"/><stop offset="0.146" stop-color="#f7e205"/><stop offset="0.175" stop-color="#f6b005"/><stop offset="0.234" stop-color="#f6a005"/><stop offset="0.394" stop-color="#f56705"/><stop offset="0.620" stop-color="#f25e05"/><stop offset="0.942" stop-color="#ec6e05"/><stop offset="0.978" stop-color="#eb6e05"/><stop offset="0.985" stop-color="#ebad05"/><stop offset="0.993" stop-color="#ebd005"/><stop offset="1.000" stop-color="#ead005"/></linearGradient><linearGradient id="rr21" gradientUnits="userSpaceOnUse" x1="432.0" x2="569.0" y1="0" y2="0"><stop offset="0.000" stop-color="#0505ab"/><stop offset="0.015" stop-color="#0505f4"/><stop offset="0.051" stop-color="#05eff8"/><stop offset="0.058" stop-color="#1ef8df"/><stop offset="0.080" stop-color="#77f886"/><stop offset="0.139" stop-color="#f5f707"/><stop offset="0.182" stop-color="#f7ae05"/><stop offset="0.241" stop-color="#f79b05"/><stop offset="0.394" stop-color="#f65d05"/><stop offset="0.613" stop-color="#f44f05"/><stop offset="0.978" stop-color="#ed6405"/><stop offset="0.985" stop-color="#eda105"/><stop offset="0.993" stop-color="#edd205"/><stop offset="1.000" stop-color="#ecd205"/></linearGradient><linearGradient id="rr22" gradientUnits="userSpaceOnUse" x1="432.0" x2="569.0" y1="0" y2="0"><stop offset="0.000" stop-color="#0505ac"/><stop offset="0.015" stop-color="#0505f5"/><stop offset="0.051" stop-color="#05f0f8"/><stop offset="0.058" stop-color="#1cf8e1"/><stop offset="0.080" stop-color="#70f88d"/><stop offset="0.095" stop-color="#95f868"/><stop offset="0.146" stop-color="#f8f505"/><stop offset="0.182" stop-color="#f8b305"/><stop offset="0.387" stop-color="#f65505"/><stop offset="0.606" stop-color="#f54005"/><stop offset="0.978" stop-color="#ef5805"/><stop offset="0.993" stop-color="#efd305"/><stop offset="1.000" stop-color="#eed305"/></linearGradient><linearGradient id="rr23" gradientUnits="userSpaceOnUse" x1="432.0" x2="569.0" y1="0" y2="0"><stop offset="0.000" stop-color="#0505ac"/><stop offset="0.015" stop-color="#0505f5"/><stop offset="0.051" stop-color="#05f0f9"/><stop offset="0.058" stop-color="#1bf9e3"/><stop offset="0.088" stop-color="#83f97b"/><stop offset="0.146" stop-color="#f2f80b"/><stop offset="0.168" stop-color="#f8d605"/><stop offset="0.190" stop-color="#f8af05"/><stop offset="0.387" stop-color="#f74c05"/><stop offset="0.606" stop-color="#f63105"/><stop offset="0.978" stop-color="#f14905"/><stop offset="0.993" stop-color="#f0c905"/><stop offset="1.000" stop-color="#f0d505"/></linearGradient><linearGradient id="rr24" gradientUnits="userSpaceOnUse" x1="431.0" x2="569.0" y1="0" y2="0"><stop offset="0.000" stop-color="#050599"/><stop offset="0.007" stop-color="#0505ac"/><stop offset="0.022" stop-color="#0505f6"/><stop offset="0.058" stop-color="#05f0f9"/><stop offset="0.065" stop-color="#1af9e4"/><stop offset="0.094" stop-color="#7ff980"/><stop offset="0.159" stop-color="#f8f906"/><stop offset="0.203" stop-color="#f9ab05"/><stop offset="0.391" stop-color="#f84405"/><stop offset="0.609" stop-color="#f72205"/><stop offset="0.978" stop-color="#f23a05"/><stop offset="0.993" stop-color="#f2bf05"/><stop offset="1.000" stop-color="#f2d605"/></linearGradient><linearGradient id="rr25" gradientUnits="userSpaceOnUse" x1="431.0" x2="570.0" y1="0" y2="0"><stop offset="0.000" stop-color="#05059a"/><stop offset="0.007" stop-color="#0505ad"/><stop offset="0.022" stop-color="#0505f6"/><stop offset="0.058" stop-color="#05f1fa"/><stop offset="0.065" stop-color="#19fae6"/><stop offset="0.094" stop-color="#79fa86"/><stop offset="0.158" stop-color="#f1f90e"/><stop offset="0.165" stop-color="#f9f505"/><stop offset="0.209" stop-color="#f9a605"/><stop offset="0.388" stop-color="#f93b05"/><stop offset="0.604" stop-color="#f71405"/><stop offset="0.971" stop-color="#f42905"/><stop offset="0.986" stop-color="#f3b605"/><stop offset="0.993" stop-color="#f3d805"/><stop offset="1.000" stop-color="#f3d805"/></linearGradient><linearGradient id="rr26" gradientUnits="userSpaceOnUse" x1="431.0" x2="570.0" y1="0" y2="0"><stop offset="0.000" stop-color="#05059a"/><stop offset="0.007" stop-color="#0505ad"/><stop offset="0.022" stop-color="#0505f7"/><stop offset="0.058" stop-color="#05f1fa"/><stop offset="0.065" stop-color="#18fae7"/><stop offset="0.101" stop-color="#86fa79"/><stop offset="0.165" stop-color="#f6fa09"/><stop offset="0.216" stop-color="#faa205"/><stop offset="0.388" stop-color="#f93305"/><stop offset="0.604" stop-color="#f80605"/><stop offset="0.935" stop-color="#f51505"/><stop offset="0.971" stop-color="#f51805"/><stop offset="0.986" stop-color="#f5ae05"/><stop offset="0.993" stop-color="#f5d905"/><stop offset="1.000" stop-color="#f5d905"/></linearGradient><linearGradient id="rr27" gradientUnits="userSpaceOnUse" x1="431.0" x2="570.0" y1="0" y2="0"><stop offset="0.000" stop-color="#05059a"/><stop offset="0.007" stop-color="#0505ad"/><stop offset="0.022" stop-color="#0505f7"/><stop offset="0.058" stop-color="#05f2fa"/><stop offset="0.065" stop-color="#18fae8"/><stop offset="0.101" stop-color="#84fa7c"/><stop offset="0.173" stop-color="#faf805"/><stop offset="0.223" stop-color="#fa9d05"/><stop offset="0.388" stop-color="#fa2b05"/><stop offset="0.547" stop-color="#f80505"/><stop offset="0.633" stop-color="#ec0505"/><stop offset="0.935" stop-color="#f50505"/><stop offset="0.957" stop-color="#f60905"/><stop offset="0.971" stop-color="#f61405"/><stop offset="0.978" stop-color="#f65605"/><stop offset="0.986" stop-color="#f6a605"/><stop offset="0.993" stop-color="#f6da05"/><stop offset="1.000" stop-color="#f6da05"/></linearGradient><linearGradient id="rr28" gradientUnits="userSpaceOnUse" x1="431.0" x2="570.0" y1="0" y2="0"><stop offset="0.000" stop-color="#05059a"/><stop offset="0.007" stop-color="#0505ad"/><stop offset="0.022" stop-color="#0505f7"/><stop offset="0.058" stop-color="#05f2fb"/><stop offset="0.065" stop-color="#17fbe9"/><stop offset="0.101" stop-color="#81fb7f"/><stop offset="0.173" stop-color="#f6fb0a"/><stop offset="0.201" stop-color="#fbcc05"/><stop offset="0.237" stop-color="#fb8f05"/><stop offset="0.360" stop-color="#fa3705"/><stop offset="0.388" stop-color="#fa2405"/><stop offset="0.504" stop-color="#f70505"/><stop offset="0.626" stop-color="#df0505"/><stop offset="0.899" stop-color="#e30505"/><stop offset="0.921" stop-color="#ee0505"/><stop offset="0.950" stop-color="#f50505"/><stop offset="0.971" stop-color="#f71305"/><stop offset="0.978" stop-color="#f74c05"/><stop offset="0.986" stop-color="#f79f05"/><stop offset="0.993" stop-color="#f7db05"/><stop offset="1.000" stop-color="#f7db05"/></linearGradient><linearGradient id="rr29" gradientUnits="userSpaceOnUse" x1="431.0" x2="570.0" y1="0" y2="0"><stop offset="0.000" stop-color="#05059b"/><stop offset="0.007" stop-color="#0505ae"/><stop offset="0.022" stop-color="#0505f8"/><stop offset="0.058" stop-color="#05f2fb"/><stop offset="0.065" stop-color="#16fbea"/><stop offset="0.101" stop-color="#7dfb83"/><stop offset="0.180" stop-color="#fbfa05"/><stop offset="0.245" stop-color="#fb8805"/><stop offset="0.360" stop-color="#fb3205"/><stop offset="0.388" stop-color="#fb1d05"/><stop offset="0.475" stop-color="#f70505"/><stop offset="0.619" stop-color="#d40505"/><stop offset="0.892" stop-color="#d30505"/><stop offset="0.899" stop-color="#db0505"/><stop offset="0.906" stop-color="#ec0505"/><stop offset="0.942" stop-color="#f00505"/><stop offset="0.964" stop-color="#f80d05"/><stop offset="0.971" stop-color="#f81305"/><stop offset="0.978" stop-color="#f84305"/><stop offset="0.986" stop-color="#f89905"/><stop offset="0.993" stop-color="#f8db05"/><stop offset="1.000" stop-color="#f8dc05"/></linearGradient><linearGradient id="rr30" gradientUnits="userSpaceOnUse" x1="431.0" x2="570.0" y1="0" y2="0"><stop offset="0.000" stop-color="#05059b"/><stop offset="0.007" stop-color="#0505ae"/><stop offset="0.022" stop-color="#0505f8"/><stop offset="0.058" stop-color="#05f3fb"/><stop offset="0.065" stop-color="#16fbeb"/><stop offset="0.101" stop-color="#7afb87"/><stop offset="0.180" stop-color="#f7fb09"/><stop offset="0.216" stop-color="#fbbf05"/><stop offset="0.252" stop-color="#fb8105"/><stop offset="0.360" stop-color="#fb2d05"/><stop offset="0.388" stop-color="#fb1705"/><stop offset="0.453" stop-color="#f70505"/><stop offset="0.619" stop-color="#c90505"/><stop offset="0.885" stop-color="#c50505"/><stop offset="0.906" stop-color="#ef0505"/><stop offset="0.942" stop-color="#f00505"/><stop offset="0.964" stop-color="#f90d05"/><stop offset="0.971" stop-color="#f91205"/><stop offset="0.978" stop-color="#f93b05"/><stop offset="0.986" stop-color="#f99405"/><stop offset="0.993" stop-color="#f9d705"/><stop offset="1.000" stop-color="#f9dd05"/></linearGradient><linearGradient id="rr31" gradientUnits="userSpaceOnUse" x1="431.0" x2="570.0" y1="0" y2="0"><stop offset="0.000" stop-color="#05059b"/><stop offset="0.007" stop-color="#0505ae"/><stop offset="0.022" stop-color="#0505f8"/><stop offset="0.058" stop-color="#05f3fc"/><stop offset="0.065" stop-color="#16fceb"/><stop offset="0.108" stop-color="#86fc7a"/><stop offset="0.187" stop-color="#fcf905"/><stop offset="0.252" stop-color="#fc8405"/><stop offset="0.388" stop-color="#fb1105"/><stop offset="0.439" stop-color="#f50505"/><stop offset="0.619" stop-color="#bf0505"/><stop offset="0.871" stop-color="#b90505"/><stop offset="0.885" stop-color="#c40505"/><stop offset="0.906" stop-color="#f00505"/><stop offset="0.950" stop-color="#f60505"/><stop offset="0.971" stop-color="#fa1205"/><stop offset="0.978" stop-color="#fa3505"/><stop offset="0.986" stop-color="#fa9005"/><stop offset="0.993" stop-color="#fad305"/><stop offset="1.000" stop-color="#fade05"/></linearGradient><linearGradient id="rr32" gradientUnits="userSpaceOnUse" x1="431.0" x2="570.0" y1="0" y2="0"><stop offset="0.000" stop-color="#05059b"/><stop offset="0.007" stop-color="#0505ae"/><stop offset="0.022" stop-color="#0505f8"/><stop offset="0.058" stop-color="#05f3fc"/><stop offset="0.065" stop-color="#15fcec"/><stop offset="0.108" stop-color="#85fc7c"/><stop offset="0.187" stop-color="#fafc07"/><stop offset="0.259" stop-color="#fc7f05"/><stop offset="0.388" stop-color="#fc0d05"/><stop offset="0.432" stop-color="#f30505"/><stop offset="0.619" stop-color="#b70505"/><stop offset="0.856" stop-color="#ad0505"/><stop offset="0.885" stop-color="#c60505"/><stop offset="0.899" stop-color="#e90505"/><stop offset="0.914" stop-color="#f10505"/><stop offset="0.950" stop-color="#f60505"/><stop offset="0.971" stop-color="#fb1105"/><stop offset="0.978" stop-color="#fb3005"/><stop offset="0.986" stop-color="#fb8c05"/><stop offset="0.993" stop-color="#fbcf05"/><stop offset="1.000" stop-color="#fbde05"/></linearGradient><linearGradient id="rr33" gradientUnits="userSpaceOnUse" x1="431.0" x2="570.0" y1="0" y2="0"><stop offset="0.000" stop-color="#05059b"/><stop offset="0.007" stop-color="#0505ae"/><stop offset="0.022" stop-color="#0505f9"/><stop offset="0.058" stop-color="#05f3fc"/><stop offset="0.065" stop-color="#15fcec"/><stop offset="0.108" stop-color="#84fc7e"/><stop offset="0.187" stop-color="#f7fc0a"/><stop offset="0.201" stop-color="#fce805"/><stop offset="0.259" stop-color="#fc8105"/><stop offset="0.388" stop-color="#fc0905"/><stop offset="0.619" stop-color="#af0505"/><stop offset="0.842" stop-color="#a20505"/><stop offset="0.885" stop-color="#c90505"/><stop offset="0.899" stop-color="#ec0505"/><stop offset="0.935" stop-color="#f20505"/><stop offset="0.957" stop-color="#fb0605"/><stop offset="0.971" stop-color="#fb1105"/><stop offset="0.978" stop-color="#fb2c05"/><stop offset="0.986" stop-color="#fb8905"/><stop offset="0.993" stop-color="#fbcd05"/><stop offset="1.000" stop-color="#fbdf05"/></linearGradient><linearGradient id="rr34" gradientUnits="userSpaceOnUse" x1="431.0" x2="570.0" y1="0" y2="0"><stop offset="0.000" stop-color="#05059b"/><stop offset="0.007" stop-color="#0505ae"/><stop offset="0.022" stop-color="#0505f9"/><stop offset="0.058" stop-color="#05f3fc"/><stop offset="0.065" stop-color="#15fced"/><stop offset="0.108" stop-color="#83fc7f"/><stop offset="0.194" stop-color="#fcf805"/><stop offset="0.259" stop-color="#fc8405"/><stop offset="0.381" stop-color="#fc0805"/><stop offset="0.633" stop-color="#a80505"/><stop offset="0.835" stop-color="#9c0505"/><stop offset="0.878" stop-color="#be0505"/><stop offset="0.899" stop-color="#ef0505"/><stop offset="0.950" stop-color="#f70505"/><stop offset="0.971" stop-color="#fc1105"/><stop offset="0.978" stop-color="#fc2905"/><stop offset="0.986" stop-color="#fc8605"/><stop offset="0.993" stop-color="#fccc05"/><stop offset="1.000" stop-color="#fcdf05"/></linearGradient><linearGradient id="rr35" gradientUnits="userSpaceOnUse" x1="431.0" x2="570.0" y1="0" y2="0"><stop offset="0.000" stop-color="#05059b"/><stop offset="0.007" stop-color="#0505ae"/><stop offset="0.022" stop-color="#0505f9"/><stop offset="0.058" stop-color="#05f3fc"/><stop offset="0.065" stop-color="#15fced"/><stop offset="0.108" stop-color="#82fc7f"/><stop offset="0.194" stop-color="#fcfa05"/><stop offset="0.266" stop-color="#fc7d05"/><stop offset="0.381" stop-color="#fc0605"/><stop offset="0.655" stop-color="#a20505"/><stop offset="0.827" stop-color="#970505"/><stop offset="0.878" stop-color="#bf0505"/><stop offset="0.899" stop-color="#f00505"/><stop offset="0.950" stop-color="#f70505"/><stop offset="0.971" stop-color="#fc1105"/><stop offset="0.978" stop-color="#fc2805"/><stop offset="0.986" stop-color="#fc8505"/><stop offset="0.993" stop-color="#fccb05"/><stop offset="1.000" stop-color="#fcdf05"/></linearGradient><linearGradient id="rr36" gradientUnits="userSpaceOnUse" x1="431.0" x2="570.0" y1="0" y2="0"><stop offset="0.000" stop-color="#05059b"/><stop offset="0.007" stop-color="#0505ae"/><stop offset="0.022" stop-color="#0505f9"/><stop offset="0.058" stop-color="#05f4fc"/><stop offset="0.065" stop-color="#15fced"/><stop offset="0.108" stop-color="#82fc7f"/><stop offset="0.194" stop-color="#fcfb05"/><stop offset="0.266" stop-color="#fc7d05"/><stop offset="0.381" stop-color="#fc0605"/><stop offset="0.669" stop-color="#9d0505"/><stop offset="0.820" stop-color="#910505"/><stop offset="0.878" stop-color="#bf0505"/><stop offset="0.899" stop-color="#f20505"/><stop offset="0.950" stop-color="#f70505"/><stop offset="0.971" stop-color="#fc1105"/><stop offset="0.978" stop-color="#fc2905"/><stop offset="0.986" stop-color="#fc8605"/><stop offset="0.993" stop-color="#fccc05"/><stop offset="1.000" stop-color="#fce005"/></linearGradient><linearGradient id="rr37" gradientUnits="userSpaceOnUse" x1="431.0" x2="570.0" y1="0" y2="0"><stop offset="0.000" stop-color="#05059b"/><stop offset="0.007" stop-color="#0505ae"/><stop offset="0.022" stop-color="#0505f9"/><stop offset="0.058" stop-color="#05f4fc"/><stop offset="0.065" stop-color="#15fced"/><stop offset="0.108" stop-color="#82fc7f"/><stop offset="0.194" stop-color="#fcfa05"/><stop offset="0.266" stop-color="#fc7d05"/><stop offset="0.381" stop-color="#fc0505"/><stop offset="0.676" stop-color="#9b0505"/><stop offset="0.820" stop-color="#920505"/><stop offset="0.878" stop-color="#bf0505"/><stop offset="0.899" stop-color="#f20505"/><stop offset="0.950" stop-color="#f80505"/><stop offset="0.971" stop-color="#fc1105"/><stop offset="0.978" stop-color="#fc2a05"/><stop offset="0.986" stop-color="#fc8805"/><stop offset="0.993" stop-color="#fccd05"/><stop offset="1.000" stop-color="#fce005"/></linearGradient><linearGradient id="rr38" gradientUnits="userSpaceOnUse" x1="431.0" x2="570.0" y1="0" y2="0"><stop offset="0.000" stop-color="#05059b"/><stop offset="0.007" stop-color="#0505ae"/><stop offset="0.022" stop-color="#0505f9"/><stop offset="0.058" stop-color="#05f4fc"/><stop offset="0.065" stop-color="#15fced"/><stop offset="0.108" stop-color="#83fc7f"/><stop offset="0.194" stop-color="#fcf905"/><stop offset="0.259" stop-color="#fc8405"/><stop offset="0.381" stop-color="#fc0505"/><stop offset="0.669" stop-color="#9c0505"/><stop offset="0.820" stop-color="#920505"/><stop offset="0.878" stop-color="#bf0505"/><stop offset="0.899" stop-color="#f20505"/><stop offset="0.950" stop-color="#f80505"/><stop offset="0.971" stop-color="#fc1105"/><stop offset="0.978" stop-color="#fc2d05"/><stop offset="0.986" stop-color="#fc8b05"/><stop offset="0.993" stop-color="#fccf05"/><stop offset="1.000" stop-color="#fce005"/></linearGradient><linearGradient id="rr39" gradientUnits="userSpaceOnUse" x1="431.0" x2="570.0" y1="0" y2="0"><stop offset="0.000" stop-color="#05059b"/><stop offset="0.007" stop-color="#0505ae"/><stop offset="0.022" stop-color="#0505f9"/><stop offset="0.058" stop-color="#05f4fc"/><stop offset="0.065" stop-color="#15fced"/><stop offset="0.108" stop-color="#84fc7e"/><stop offset="0.187" stop-color="#f7fc0a"/><stop offset="0.201" stop-color="#fce905"/><stop offset="0.259" stop-color="#fc8105"/><stop offset="0.381" stop-color="#fc0505"/><stop offset="0.662" stop-color="#9e0505"/><stop offset="0.820" stop-color="#920505"/><stop offset="0.878" stop-color="#bf0505"/><stop offset="0.899" stop-color="#f10505"/><stop offset="0.950" stop-color="#f80505"/><stop offset="0.971" stop-color="#fc1205"/><stop offset="0.978" stop-color="#fc3205"/><stop offset="0.986" stop-color="#fc8f05"/><stop offset="0.993" stop-color="#fcd205"/><stop offset="1.000" stop-color="#fce005"/></linearGradient><linearGradient id="rr40" gradientUnits="userSpaceOnUse" x1="431.0" x2="570.0" y1="0" y2="0"><stop offset="0.000" stop-color="#05059b"/><stop offset="0.007" stop-color="#0505ae"/><stop offset="0.022" stop-color="#0505f9"/><stop offset="0.058" stop-color="#05f4fc"/><stop offset="0.065" stop-color="#15fcec"/><stop offset="0.108" stop-color="#85fc7c"/><stop offset="0.187" stop-color="#fafc07"/><stop offset="0.259" stop-color="#fc7f05"/><stop offset="0.381" stop-color="#fc0505"/><stop offset="0.647" stop-color="#a20505"/><stop offset="0.820" stop-color="#940505"/><stop offset="0.878" stop-color="#c00505"/><stop offset="0.892" stop-color="#dd0505"/><stop offset="0.899" stop-color="#ef0505"/><stop offset="0.950" stop-color="#f80505"/><stop offset="0.971" stop-color="#fc1205"/><stop offset="0.978" stop-color="#fc3805"/><stop offset="0.986" stop-color="#fc9305"/><stop offset="0.993" stop-color="#fcd605"/><stop offset="1.000" stop-color="#fce005"/></linearGradient><linearGradient id="rr41" gradientUnits="userSpaceOnUse" x1="431.0" x2="570.0" y1="0" y2="0"><stop offset="0.000" stop-color="#05059b"/><stop offset="0.007" stop-color="#0505ae"/><stop offset="0.022" stop-color="#0505f9"/><stop offset="0.058" stop-color="#05f3fc"/><stop offset="0.065" stop-color="#16fcec"/><stop offset="0.108" stop-color="#87fc7b"/><stop offset="0.187" stop-color="#fcfa05"/><stop offset="0.252" stop-color="#fc8505"/><stop offset="0.381" stop-color="#fc0805"/><stop offset="0.633" stop-color="#a80505"/><stop offset="0.827" stop-color="#9a0505"/><stop offset="0.885" stop-color="#c90505"/><stop offset="0.899" stop-color="#ed0505"/><stop offset="0.935" stop-color="#f30505"/><stop offset="0.964" stop-color="#fc0d05"/><stop offset="0.971" stop-color="#fc1205"/><stop offset="0.978" stop-color="#fc3f05"/><stop offset="0.986" stop-color="#fc9805"/><stop offset="0.993" stop-color="#fcdb05"/><stop offset="1.000" stop-color="#fcdf05"/></linearGradient><linearGradient id="rr42" gradientUnits="userSpaceOnUse" x1="431.0" x2="570.0" y1="0" y2="0"><stop offset="0.000" stop-color="#05059b"/><stop offset="0.007" stop-color="#0505ae"/><stop offset="0.022" stop-color="#0505f9"/><stop offset="0.058" stop-color="#05f3fc"/><stop offset="0.065" stop-color="#16fceb"/><stop offset="0.101" stop-color="#7afc87"/><stop offset="0.180" stop-color="#f8fc0a"/><stop offset="0.216" stop-color="#fcc005"/><stop offset="0.252" stop-color="#fc8005"/><stop offset="0.367" stop-color="#fc1905"/><stop offset="0.388" stop-color="#fc0805"/><stop offset="0.619" stop-color="#af0505"/><stop offset="0.842" stop-color="#a50505"/><stop offset="0.885" stop-color="#c60505"/><stop offset="0.899" stop-color="#ea0505"/><stop offset="0.914" stop-color="#f20505"/><stop offset="0.942" stop-color="#f30505"/><stop offset="0.964" stop-color="#fc0d05"/><stop offset="0.971" stop-color="#fc1305"/><stop offset="0.978" stop-color="#fc4705"/><stop offset="0.986" stop-color="#fc9e05"/><stop offset="0.993" stop-color="#fcdf05"/><stop offset="1.000" stop-color="#fcdf05"/></linearGradient><linearGradient id="rr43" gradientUnits="userSpaceOnUse" x1="431.0" x2="570.0" y1="0" y2="0"><stop offset="0.000" stop-color="#05059b"/><stop offset="0.007" stop-color="#0505ae"/><stop offset="0.022" stop-color="#0505f9"/><stop offset="0.058" stop-color="#05f3fc"/><stop offset="0.065" stop-color="#17fceb"/><stop offset="0.101" stop-color="#7efc84"/><stop offset="0.180" stop-color="#fcfb05"/><stop offset="0.245" stop-color="#fc8505"/><stop offset="0.353" stop-color="#fc2b05"/><stop offset="0.388" stop-color="#fc0c05"/><stop offset="0.432" stop-color="#f30505"/><stop offset="0.619" stop-color="#b60505"/><stop offset="0.849" stop-color="#ac0505"/><stop offset="0.885" stop-color="#c70505"/><stop offset="0.906" stop-color="#f10505"/><stop offset="0.942" stop-color="#f40505"/><stop offset="0.971" stop-color="#fb1405"/><stop offset="0.978" stop-color="#fb5105"/><stop offset="0.986" stop-color="#fba505"/><stop offset="0.993" stop-color="#fbdf05"/><stop offset="1.000" stop-color="#fbdf05"/></linearGradient><linearGradient id="rr44" gradientUnits="userSpaceOnUse" x1="431.0" x2="570.0" y1="0" y2="0"><stop offset="0.000" stop-color="#05059b"/><stop offset="0.007" stop-color="#0505ae"/><stop offset="0.022" stop-color="#0505f9"/><stop offset="0.058" stop-color="#05f3fc"/><stop offset="0.065" stop-color="#17fcea"/><stop offset="0.101" stop-color="#82fc7f"/><stop offset="0.173" stop-color="#f7fc0a"/><stop offset="0.201" stop-color="#fccd05"/><stop offset="0.237" stop-color="#fc8b05"/><stop offset="0.353" stop-color="#fc2f05"/><stop offset="0.388" stop-color="#fc1105"/><stop offset="0.439" stop-color="#f50505"/><stop offset="0.619" stop-color="#bf0505"/><stop offset="0.863" stop-color="#b80505"/><stop offset="0.892" stop-color="#d10505"/><stop offset="0.906" stop-color="#f10505"/><stop offset="0.942" stop-color="#f40505"/><stop offset="0.971" stop-color="#fb1405"/><stop offset="0.986" stop-color="#fbad05"/><stop offset="0.993" stop-color="#fbdf05"/><stop offset="1.000" stop-color="#fbdf05"/></linearGradient><linearGradient id="rr45" gradientUnits="userSpaceOnUse" x1="431.0" x2="570.0" y1="0" y2="0"><stop offset="0.000" stop-color="#05059b"/><stop offset="0.007" stop-color="#0505ae"/><stop offset="0.022" stop-color="#0505f9"/><stop offset="0.058" stop-color="#05f3fc"/><stop offset="0.065" stop-color="#18fce9"/><stop offset="0.101" stop-color="#84fc7d"/><stop offset="0.173" stop-color="#fcfa05"/><stop offset="0.230" stop-color="#fc9205"/><stop offset="0.353" stop-color="#fc3305"/><stop offset="0.388" stop-color="#fc1705"/><stop offset="0.453" stop-color="#f70505"/><stop offset="0.619" stop-color="#c90505"/><stop offset="0.878" stop-color="#c60505"/><stop offset="0.892" stop-color="#ce0505"/><stop offset="0.906" stop-color="#ee0505"/><stop offset="0.942" stop-color="#f40505"/><stop offset="0.971" stop-color="#fb1505"/><stop offset="0.986" stop-color="#fbb605"/><stop offset="0.993" stop-color="#fbde05"/><stop offset="1.000" stop-color="#fbde05"/></linearGradient><linearGradient id="rr46" gradientUnits="userSpaceOnUse" x1="431.0" x2="569.0" y1="0" y2="0"><stop offset="0.000" stop-color="#05059b"/><stop offset="0.007" stop-color="#0505ae"/><stop offset="0.022" stop-color="#0505f8"/><stop offset="0.058" stop-color="#05f3fc"/><stop offset="0.065" stop-color="#19fce8"/><stop offset="0.101" stop-color="#87fc7a"/><stop offset="0.167" stop-color="#f8fc09"/><stop offset="0.225" stop-color="#fc9905"/><stop offset="0.355" stop-color="#fc3905"/><stop offset="0.391" stop-color="#fc1d05"/><stop offset="0.478" stop-color="#f80505"/><stop offset="0.623" stop-color="#d40505"/><stop offset="0.899" stop-color="#d50505"/><stop offset="0.906" stop-color="#d80505"/><stop offset="0.913" stop-color="#e90505"/><stop offset="0.928" stop-color="#f00505"/><stop offset="0.949" stop-color="#f50505"/><stop offset="0.971" stop-color="#fa1005"/><stop offset="0.978" stop-color="#fa1c05"/><stop offset="0.986" stop-color="#fa7705"/><stop offset="0.993" stop-color="#fabf05"/><stop offset="1.000" stop-color="#fade05"/></linearGradient><linearGradient id="rr47" gradientUnits="userSpaceOnUse" x1="431.0" x2="569.0" y1="0" y2="0"><stop offset="0.000" stop-color="#05059b"/><stop offset="0.007" stop-color="#0505ae"/><stop offset="0.022" stop-color="#0505f8"/><stop offset="0.058" stop-color="#05f3fc"/><stop offset="0.065" stop-color="#19fce7"/><stop offset="0.094" stop-color="#7afc87"/><stop offset="0.159" stop-color="#f3fc0e"/><stop offset="0.167" stop-color="#fcf705"/><stop offset="0.210" stop-color="#fba805"/><stop offset="0.362" stop-color="#fb3905"/><stop offset="0.391" stop-color="#fb2505"/><stop offset="0.507" stop-color="#f80505"/><stop offset="0.623" stop-color="#e00505"/><stop offset="0.913" stop-color="#e50505"/><stop offset="0.920" stop-color="#f00505"/><stop offset="0.949" stop-color="#f50505"/><stop offset="0.971" stop-color="#fa1105"/><stop offset="0.978" stop-color="#fa2b05"/><stop offset="0.986" stop-color="#fa8605"/><stop offset="0.993" stop-color="#faca05"/><stop offset="1.000" stop-color="#f9dd05"/></linearGradient><linearGradient id="rr48" gradientUnits="userSpaceOnUse" x1="432.0" x2="569.0" y1="0" y2="0"><stop offset="0.000" stop-color="#0505ae"/><stop offset="0.015" stop-color="#0505f8"/><stop offset="0.051" stop-color="#05f3fb"/><stop offset="0.058" stop-color="#1afbe6"/><stop offset="0.088" stop-color="#80fb81"/><stop offset="0.153" stop-color="#fafb06"/><stop offset="0.197" stop-color="#fbac05"/><stop offset="0.358" stop-color="#fb3f05"/><stop offset="0.387" stop-color="#fb2c05"/><stop offset="0.547" stop-color="#f90505"/><stop offset="0.628" stop-color="#ed0505"/><stop offset="0.949" stop-color="#f80505"/><stop offset="0.971" stop-color="#f91205"/><stop offset="0.978" stop-color="#f93c05"/><stop offset="0.985" stop-color="#f99405"/><stop offset="0.993" stop-color="#f9d505"/><stop offset="1.000" stop-color="#f9dd05"/></linearGradient><linearGradient id="rr49" gradientUnits="userSpaceOnUse" x1="432.0" x2="569.0" y1="0" y2="0"><stop offset="0.000" stop-color="#0505ae"/><stop offset="0.015" stop-color="#0505f8"/><stop offset="0.051" stop-color="#05f2fb"/><stop offset="0.058" stop-color="#1bfbe5"/><stop offset="0.088" stop-color="#84fb7c"/><stop offset="0.146" stop-color="#f5fb0b"/><stop offset="0.161" stop-color="#fbe605"/><stop offset="0.190" stop-color="#fbb105"/><stop offset="0.358" stop-color="#fb4705"/><stop offset="0.394" stop-color="#fb3305"/><stop offset="0.606" stop-color="#fa0505"/><stop offset="0.964" stop-color="#f81705"/><stop offset="0.971" stop-color="#f81805"/><stop offset="0.978" stop-color="#f84e05"/><stop offset="0.985" stop-color="#f8a005"/><stop offset="0.993" stop-color="#f8dc05"/><stop offset="1.000" stop-color="#f8dc05"/></linearGradient><linearGradient id="rr50" gradientUnits="userSpaceOnUse" x1="432.0" x2="569.0" y1="0" y2="0"><stop offset="0.000" stop-color="#0505ad"/><stop offset="0.015" stop-color="#0505f8"/><stop offset="0.051" stop-color="#05f2fb"/><stop offset="0.058" stop-color="#1dfbe4"/><stop offset="0.080" stop-color="#71fb8f"/><stop offset="0.095" stop-color="#97fb69"/><stop offset="0.146" stop-color="#fbf805"/><stop offset="0.182" stop-color="#fbb505"/><stop offset="0.358" stop-color="#fa4e05"/><stop offset="0.394" stop-color="#fa3c05"/><stop offset="0.606" stop-color="#fa1405"/><stop offset="0.971" stop-color="#f82905"/><stop offset="0.978" stop-color="#f86105"/><stop offset="0.985" stop-color="#f7ad05"/><stop offset="0.993" stop-color="#f7db05"/><stop offset="1.000" stop-color="#f7db05"/></linearGradient><linearGradient id="rr51" gradientUnits="userSpaceOnUse" x1="432.0" x2="569.0" y1="0" y2="0"><stop offset="0.000" stop-color="#0505ad"/><stop offset="0.015" stop-color="#0505f7"/><stop offset="0.051" stop-color="#05f2fb"/><stop offset="0.058" stop-color="#1efbe2"/><stop offset="0.080" stop-color="#78fb88"/><stop offset="0.139" stop-color="#f9fb07"/><stop offset="0.175" stop-color="#fbb905"/><stop offset="0.197" stop-color="#fbaf05"/><stop offset="0.365" stop-color="#fa5205"/><stop offset="0.409" stop-color="#fa4205"/><stop offset="0.613" stop-color="#f92305"/><stop offset="0.971" stop-color="#f73b05"/><stop offset="0.978" stop-color="#f77505"/><stop offset="0.985" stop-color="#f7bb05"/><stop offset="0.993" stop-color="#f7db05"/><stop offset="1.000" stop-color="#f6db05"/></linearGradient><linearGradient id="rr52" gradientUnits="userSpaceOnUse" x1="433.0" x2="568.0" y1="0" y2="0"><stop offset="0.000" stop-color="#0505d2"/><stop offset="0.007" stop-color="#0505f7"/><stop offset="0.044" stop-color="#05f2fb"/><stop offset="0.052" stop-color="#20fbe0"/><stop offset="0.074" stop-color="#80fa80"/><stop offset="0.126" stop-color="#f3fa0c"/><stop offset="0.141" stop-color="#fae605"/><stop offset="0.163" stop-color="#fabd05"/><stop offset="0.178" stop-color="#fab405"/><stop offset="0.222" stop-color="#faa405"/><stop offset="0.385" stop-color="#fa5005"/><stop offset="0.607" stop-color="#f93305"/><stop offset="0.978" stop-color="#f64b05"/><stop offset="0.993" stop-color="#f6ca05"/><stop offset="1.000" stop-color="#f6da05"/></linearGradient><linearGradient id="rr53" gradientUnits="userSpaceOnUse" x1="433.0" x2="568.0" y1="0" y2="0"><stop offset="0.000" stop-color="#0505d2"/><stop offset="0.007" stop-color="#0505f7"/><stop offset="0.044" stop-color="#05f1fa"/><stop offset="0.052" stop-color="#22fade"/><stop offset="0.074" stop-color="#85fa7a"/><stop offset="0.126" stop-color="#faf705"/><stop offset="0.156" stop-color="#fac105"/><stop offset="0.170" stop-color="#fab705"/><stop offset="0.222" stop-color="#faa805"/><stop offset="0.385" stop-color="#f95a05"/><stop offset="0.607" stop-color="#f84205"/><stop offset="0.978" stop-color="#f55a05"/><stop offset="0.993" stop-color="#f5d905"/><stop offset="1.000" stop-color="#f5d905"/></linearGradient><linearGradient id="rr54" gradientUnits="userSpaceOnUse" x1="433.0" x2="568.0" y1="0" y2="0"><stop offset="0.000" stop-color="#0505d2"/><stop offset="0.007" stop-color="#0505f7"/><stop offset="0.044" stop-color="#05f1fa"/><stop offset="0.052" stop-color="#24fadb"/><stop offset="0.067" stop-color="#6efa91"/><stop offset="0.074" stop-color="#8afa75"/><stop offset="0.119" stop-color="#f8fa07"/><stop offset="0.156" stop-color="#fabc05"/><stop offset="0.215" stop-color="#f9ae05"/><stop offset="0.385" stop-color="#f96405"/><stop offset="0.607" stop-color="#f85205"/><stop offset="0.978" stop-color="#f46705"/><stop offset="0.985" stop-color="#f4ac05"/><stop offset="0.993" stop-color="#f4d805"/><stop offset="1.000" stop-color="#f4d805"/></linearGradient><linearGradient id="rr55" gradientUnits="userSpaceOnUse" x1="433.0" x2="567.0" y1="0" y2="0"><stop offset="0.000" stop-color="#0505d1"/><stop offset="0.007" stop-color="#0505f6"/><stop offset="0.045" stop-color="#05f1fa"/><stop offset="0.052" stop-color="#26fad8"/><stop offset="0.067" stop-color="#78fa87"/><stop offset="0.112" stop-color="#f2f90d"/><stop offset="0.127" stop-color="#f9e405"/><stop offset="0.149" stop-color="#f9bf05"/><stop offset="0.216" stop-color="#f9b105"/><stop offset="0.396" stop-color="#f86e05"/><stop offset="0.619" stop-color="#f76105"/><stop offset="0.918" stop-color="#f47205"/><stop offset="0.978" stop-color="#f37205"/><stop offset="0.985" stop-color="#f37b05"/><stop offset="0.993" stop-color="#f3bd05"/><stop offset="1.000" stop-color="#f3d705"/></linearGradient><linearGradient id="rr56" gradientUnits="userSpaceOnUse" x1="434.0" x2="567.0" y1="0" y2="0"><stop offset="0.000" stop-color="#0505f6"/><stop offset="0.038" stop-color="#05f1f9"/><stop offset="0.045" stop-color="#2af9d5"/><stop offset="0.060" stop-color="#82f97d"/><stop offset="0.098" stop-color="#ebf914"/><stop offset="0.105" stop-color="#f9f505"/><stop offset="0.135" stop-color="#f9c205"/><stop offset="0.218" stop-color="#f9b205"/><stop offset="0.391" stop-color="#f87805"/><stop offset="0.624" stop-color="#f67105"/><stop offset="0.880" stop-color="#f47e05"/><stop offset="0.977" stop-color="#f27a05"/><stop offset="0.985" stop-color="#f29205"/><stop offset="0.992" stop-color="#f2cf05"/><stop offset="1.000" stop-color="#f2d605"/></linearGradient><linearGradient id="rr57" gradientUnits="userSpaceOnUse" x1="434.0" x2="567.0" y1="0" y2="0"><stop offset="0.000" stop-color="#0505f6"/><stop offset="0.038" stop-color="#05f0f9"/><stop offset="0.045" stop-color="#2ef9d0"/><stop offset="0.053" stop-color="#5ff99f"/><stop offset="0.060" stop-color="#88f976"/><stop offset="0.098" stop-color="#f8f905"/><stop offset="0.128" stop-color="#f9c505"/><stop offset="0.218" stop-color="#f8b505"/><stop offset="0.391" stop-color="#f78205"/><stop offset="0.632" stop-color="#f67f05"/><stop offset="0.857" stop-color="#f38805"/><stop offset="0.977" stop-color="#f17f05"/><stop offset="0.985" stop-color="#f1a505"/><stop offset="0.992" stop-color="#f0d505"/><stop offset="1.000" stop-color="#f0d505"/></linearGradient><linearGradient id="rr58" gradientUnits="userSpaceOnUse" x1="434.0" x2="567.0" y1="0" y2="0"><stop offset="0.000" stop-color="#0505f5"/><stop offset="0.038" stop-color="#05f0f9"/><stop offset="0.045" stop-color="#33f9cb"/><stop offset="0.053" stop-color="#6bf993"/><stop offset="0.060" stop-color="#8ff86e"/><stop offset="0.090" stop-color="#f1f80c"/><stop offset="0.105" stop-color="#f8e105"/><stop offset="0.120" stop-color="#f8c805"/><stop offset="0.226" stop-color="#f8b605"/><stop offset="0.391" stop-color="#f78c05"/><stop offset="0.662" stop-color="#f58e05"/><stop offset="0.850" stop-color="#f29105"/><stop offset="0.977" stop-color="#f08105"/><stop offset="0.985" stop-color="#f0b905"/><stop offset="0.992" stop-color="#f0d505"/><stop offset="1.000" stop-color="#f0d505"/></linearGradient><linearGradient id="rr59" gradientUnits="userSpaceOnUse" x1="435.0" x2="566.0" y1="0" y2="0"><stop offset="0.000" stop-color="#0530f8"/><stop offset="0.031" stop-color="#05eff8"/><stop offset="0.038" stop-color="#39f8c4"/><stop offset="0.046" stop-color="#7af884"/><stop offset="0.076" stop-color="#e8f815"/><stop offset="0.084" stop-color="#f8f305"/><stop offset="0.107" stop-color="#f8cb05"/><stop offset="0.221" stop-color="#f7ba05"/><stop offset="0.397" stop-color="#f69505"/><stop offset="0.832" stop-color="#f19905"/><stop offset="0.977" stop-color="#f08205"/><stop offset="0.985" stop-color="#f09305"/><stop offset="0.992" stop-color="#f0cf05"/><stop offset="1.000" stop-color="#f0d505"/></linearGradient><linearGradient id="rr60" gradientUnits="userSpaceOnUse" x1="435.0" x2="559.0" y1="0" y2="0"><stop offset="0.000" stop-color="#0530f8"/><stop offset="0.032" stop-color="#05eff8"/><stop offset="0.040" stop-color="#42f8bb"/><stop offset="0.048" stop-color="#85f878"/><stop offset="0.081" stop-color="#f8f605"/><stop offset="0.105" stop-color="#f7cd05"/><stop offset="0.250" stop-color="#f7ba05"/><stop offset="0.419" stop-color="#f69f05"/><stop offset="0.855" stop-color="#f19f05"/><stop offset="1.000" stop-color="#f08705"/></linearGradient><linearGradient id="rr61" gradientUnits="userSpaceOnUse" x1="435.0" x2="552.0" y1="0" y2="0"><stop offset="0.000" stop-color="#0530f8"/><stop offset="0.034" stop-color="#05eff7"/><stop offset="0.043" stop-color="#4ff7ad"/><stop offset="0.051" stop-color="#8ff76d"/><stop offset="0.077" stop-color="#f2f70a"/><stop offset="0.103" stop-color="#f7d005"/><stop offset="0.291" stop-color="#f6ba05"/><stop offset="0.453" stop-color="#f5a705"/><stop offset="0.855" stop-color="#f0a505"/><stop offset="1.000" stop-color="#f09105"/></linearGradient><linearGradient id="rr62" gradientUnits="userSpaceOnUse" x1="436.0" x2="544.0" y1="0" y2="0"><stop offset="0.000" stop-color="#0560f7"/><stop offset="0.028" stop-color="#05eef7"/><stop offset="0.037" stop-color="#63f799"/><stop offset="0.046" stop-color="#9cf760"/><stop offset="0.065" stop-color="#e7f715"/><stop offset="0.074" stop-color="#f7ef05"/><stop offset="0.093" stop-color="#f7d305"/><stop offset="0.481" stop-color="#f4af05"/><stop offset="0.833" stop-color="#f1ad05"/><stop offset="1.000" stop-color="#f09c05"/></linearGradient><linearGradient id="rr63" gradientUnits="userSpaceOnUse" x1="436.0" x2="536.0" y1="0" y2="0"><stop offset="0.000" stop-color="#0560f7"/><stop offset="0.030" stop-color="#05eef6"/><stop offset="0.040" stop-color="#81f67b"/><stop offset="0.060" stop-color="#d8f624"/><stop offset="0.070" stop-color="#f6f305"/><stop offset="0.090" stop-color="#f6d705"/><stop offset="0.520" stop-color="#f4b605"/><stop offset="0.850" stop-color="#f0b105"/><stop offset="1.000" stop-color="#f0a505"/></linearGradient><linearGradient id="rr64" gradientUnits="userSpaceOnUse" x1="437.0" x2="529.0" y1="0" y2="0"><stop offset="0.000" stop-color="#058ff6"/><stop offset="0.022" stop-color="#05edf6"/><stop offset="0.033" stop-color="#90f66b"/><stop offset="0.054" stop-color="#f5f606"/><stop offset="0.076" stop-color="#f6da05"/><stop offset="0.141" stop-color="#f5d205"/><stop offset="0.587" stop-color="#f3bc05"/><stop offset="0.880" stop-color="#f0b405"/><stop offset="1.000" stop-color="#f0ab05"/></linearGradient><linearGradient id="rr65" gradientUnits="userSpaceOnUse" x1="437.0" x2="521.0" y1="0" y2="0"><stop offset="0.000" stop-color="#058ef6"/><stop offset="0.024" stop-color="#05edf5"/><stop offset="0.036" stop-color="#a6f555"/><stop offset="0.048" stop-color="#e5f515"/><stop offset="0.060" stop-color="#f5ec05"/><stop offset="0.083" stop-color="#f5d605"/><stop offset="0.702" stop-color="#f1c005"/><stop offset="1.000" stop-color="#f0b205"/></linearGradient><linearGradient id="rr66" gradientUnits="userSpaceOnUse" x1="438.0" x2="514.0" y1="0" y2="0"><stop offset="0.000" stop-color="#05bdf5"/><stop offset="0.013" stop-color="#05ecf5"/><stop offset="0.026" stop-color="#c6f534"/><stop offset="0.039" stop-color="#f5ef05"/><stop offset="0.066" stop-color="#f5d805"/><stop offset="1.000" stop-color="#f0b805"/></linearGradient><linearGradient id="rr67" gradientUnits="userSpaceOnUse" x1="438.0" x2="506.0" y1="0" y2="0"><stop offset="0.000" stop-color="#05bdf4"/><stop offset="0.015" stop-color="#05ecf4"/><stop offset="0.029" stop-color="#f4f205"/><stop offset="0.059" stop-color="#f4d905"/><stop offset="1.000" stop-color="#f0bd05"/></linearGradient><linearGradient id="rr68" gradientUnits="userSpaceOnUse" x1="439.0" x2="499.0" y1="0" y2="0"><stop offset="0.000" stop-color="#05ebf4"/><stop offset="0.017" stop-color="#f4e905"/><stop offset="0.033" stop-color="#f4db05"/><stop offset="1.000" stop-color="#f0c105"/></linearGradient><linearGradient id="rr69" gradientUnits="userSpaceOnUse" x1="439.0" x2="491.0" y1="0" y2="0"><stop offset="0.000" stop-color="#05ebf3"/><stop offset="0.019" stop-color="#f3e705"/><stop offset="0.038" stop-color="#f3da05"/><stop offset="1.000" stop-color="#f0c505"/></linearGradient><linearGradient id="rr70" gradientUnits="userSpaceOnUse" x1="440.0" x2="484.0" y1="0" y2="0"><stop offset="0.000" stop-color="#f3e505"/><stop offset="0.023" stop-color="#f3da05"/><stop offset="1.000" stop-color="#f0c805"/></linearGradient><linearGradient id="rr71" gradientUnits="userSpaceOnUse" x1="440.0" x2="476.0" y1="0" y2="0"><stop offset="0.000" stop-color="#f2e305"/><stop offset="0.028" stop-color="#f2da05"/><stop offset="1.000" stop-color="#f0cc05"/></linearGradient><linearGradient id="rr72" gradientUnits="userSpaceOnUse" x1="441.0" x2="469.0" y1="0" y2="0"><stop offset="0.000" stop-color="#f1da05"/><stop offset="1.000" stop-color="#f0d005"/></linearGradient><linearGradient id="rr73" gradientUnits="userSpaceOnUse" x1="441.0" x2="461.0" y1="0" y2="0"><stop offset="0.000" stop-color="#f1da05"/><stop offset="1.000" stop-color="#f0d205"/></linearGradient><linearGradient id="rr74" gradientUnits="userSpaceOnUse" x1="442.0" x2="454.0" y1="0" y2="0"><stop offset="0.000" stop-color="#f0d905"/><stop offset="1.000" stop-color="#f0d505"/></linearGradient><linearGradient id="rr75" gradientUnits="userSpaceOnUse" x1="443.0" x2="446.0" y1="0" y2="0"><stop offset="0.000" stop-color="#f0d905"/><stop offset="1.000" stop-color="#f0d805"/></linearGradient></defs><rect x="438.5" y="92" width="6.0" height="1" fill="url(#rr0)"/><rect x="437.5" y="93" width="14.0" height="1" fill="url(#rr1)"/><rect x="437.5" y="94" width="22.0" height="1" fill="url(#rr2)"/><rect x="436.5" y="95" width="31.0" height="1" fill="url(#rr3)"/><rect x="436.5" y="96" width="39.0" height="1" fill="url(#rr4)"/><rect x="435.5" y="97" width="47.0" height="1" fill="url(#rr5)"/><rect x="435.5" y="98" width="55.0" height="1" fill="url(#rr6)"/><rect x="434.5" y="99" width="64.0" height="1" fill="url(#rr7)"/><rect x="434.5" y="100" width="72.0" height="1" fill="url(#rr8)"/><rect x="434.5" y="101" width="79.0" height="1" fill="url(#rr9)"/><rect x="433.5" y="102" width="88.0" height="1" fill="url(#rr10)"/><rect x="433.5" y="103" width="96.0" height="1" fill="url(#rr11)"/><rect x="432.5" y="104" width="105.0" height="1" fill="url(#rr12)"/><rect x="432.5" y="105" width="112.0" height="1" fill="url(#rr13)"/><rect x="432.5" y="106" width="120.0" height="1" fill="url(#rr14)"/><rect x="431.5" y="107" width="129.0" height="1" fill="url(#rr15)"/><rect x="431.5" y="108" width="137.0" height="1" fill="url(#rr16)"/><rect x="431.5" y="109" width="138.0" height="1" fill="url(#rr17)"/><rect x="431.5" y="110" width="138.0" height="1" fill="url(#rr18)"/><rect x="430.5" y="111" width="139.0" height="1" fill="url(#rr19)"/><rect x="430.5" y="112" width="140.0" height="1" fill="url(#rr20)"/><rect x="430.5" y="113" width="140.0" height="1" fill="url(#rr21)"/><rect x="430.5" y="114" width="140.0" height="1" fill="url(#rr22)"/><rect x="430.5" y="115" width="140.0" height="1" fill="url(#rr23)"/><rect x="429.5" y="116" width="141.0" height="1" fill="url(#rr24)"/><rect x="429.5" y="117" width="142.0" height="1" fill="url(#rr25)"/><rect x="429.5" y="118" width="142.0" height="1" fill="url(#rr26)"/><rect x="429.5" y="119" width="142.0" height="1" fill="url(#rr27)"/><rect x="429.5" y="120" width="142.0" height="1" fill="url(#rr28)"/><rect x="429.5" y="121" width="142.0" height="1" fill="url(#rr29)"/><rect x="429.5" y="122" width="142.0" height="1" fill="url(#rr30)"/><rect x="429.5" y="123" width="142.0" height="1" fill="url(#rr31)"/><rect x="429.5" y="124" width="142.0" height="1" fill="url(#rr32)"/><rect x="429.5" y="125" width="142.0" height="1" fill="url(#rr33)"/><rect x="429.5" y="126" width="142.0" height="1" fill="url(#rr34)"/><rect x="429.5" y="127" width="142.0" height="1" fill="url(#rr35)"/><rect x="429.5" y="128" width="142.0" height="1" fill="url(#rr36)"/><rect x="429.5" y="129" width="142.0" height="1" fill="url(#rr37)"/><rect x="429.5" y="130" width="142.0" height="1" fill="url(#rr38)"/><rect x="429.5" y="131" width="142.0" height="1" fill="url(#rr39)"/><rect x="429.5" y="132" width="142.0" height="1" fill="url(#rr40)"/><rect x="429.5" y="133" width="142.0" height="1" fill="url(#rr41)"/><rect x="429.5" y="134" width="142.0" height="1" fill="url(#rr42)"/><rect x="429.5" y="135" width="142.0" height="1" fill="url(#rr43)"/><rect x="429.5" y="136" width="142.0" height="1" fill="url(#rr44)"/><rect x="429.5" y="137" width="142.0" height="1" fill="url(#rr45)"/><rect x="429.5" y="138" width="141.0" height="1" fill="url(#rr46)"/><rect x="429.5" y="139" width="141.0" height="1" fill="url(#rr47)"/><rect x="430.5" y="140" width="140.0" height="1" fill="url(#rr48)"/><rect x="430.5" y="141" width="140.0" height="1" fill="url(#rr49)"/><rect x="430.5" y="142" width="140.0" height="1" fill="url(#rr50)"/><rect x="430.5" y="143" width="140.0" height="1" fill="url(#rr51)"/><rect x="431.5" y="144" width="138.0" height="1" fill="url(#rr52)"/><rect x="431.5" y="145" width="138.0" height="1" fill="url(#rr53)"/><rect x="431.5" y="146" width="138.0" height="1" fill="url(#rr54)"/><rect x="431.5" y="147" width="137.0" height="1" fill="url(#rr55)"/><rect x="432.5" y="148" width="136.0" height="1" fill="url(#rr56)"/><rect x="432.5" y="149" width="136.0" height="1" fill="url(#rr57)"/><rect x="432.5" y="150" width="136.0" height="1" fill="url(#rr58)"/><rect x="433.5" y="151" width="134.0" height="1" fill="url(#rr59)"/><rect x="433.5" y="152" width="127.0" height="1" fill="url(#rr60)"/><rect x="433.5" y="153" width="120.0" height="1" fill="url(#rr61)"/><rect x="434.5" y="154" width="111.0" height="1" fill="url(#rr62)"/><rect x="434.5" y="155" width="103.0" height="1" fill="url(#rr63)"/><rect x="435.5" y="156" width="95.0" height="1" fill="url(#rr64)"/><rect x="435.5" y="157" width="87.0" height="1" fill="url(#rr65)"/><rect x="436.5" y="158" width="79.0" height="1" fill="url(#rr66)"/><rect x="436.5" y="159" width="71.0" height="1" fill="url(#rr67)"/><rect x="437.5" y="160" width="63.0" height="1" fill="url(#rr68)"/><rect x="437.5" y="161" width="55.0" height="1" fill="url(#rr69)"/><rect x="438.5" y="162" width="47.0" height="1" fill="url(#rr70)"/><rect x="438.5" y="163" width="39.0" height="1" fill="url(#rr71)"/><rect x="439.5" y="164" width="31.0" height="1" fill="url(#rr72)"/><rect x="439.5" y="165" width="23.0" height="1" fill="url(#rr73)"/><rect x="440.5" y="166" width="15.0" height="1" fill="url(#rr74)"/><rect x="441.5" y="167" width="6.0" height="1" fill="url(#rr75)"/>
</g></g>
<circle cx="500.2" cy="127.9" r="4.1" fill="#f6c300" stroke="#eea000" stroke-width="0.8"/>
<rect x="503.4" y="129.8" width="24.8" height="18.1" fill="#fff"/>
<text x="505.9" y="142.9" font-size="10" font-weight="bold" fill="#cc6a1c">Sun</text>
<line x1="391.3" y1="19.3" x2="391.3" y2="242.6" stroke="#4a4a4a" stroke-width="0.9"/>
<line x1="385.3" y1="237" x2="609.4" y2="237" stroke="#4a4a4a" stroke-width="0.9"/>
<line x1="385.3" y1="237" x2="391.3" y2="237" stroke="#4a4a4a" stroke-width="0.9"/>
<text x="382.3" y="238.2" font-size="8.5" text-anchor="end" fill="#262626" dominant-baseline="middle">-80</text>
<line x1="391.3" y1="237" x2="391.3" y2="242.6" stroke="#4a4a4a" stroke-width="0.9"/>
<text x="391.3" y="252.8" font-size="8.5" text-anchor="middle" fill="#262626" dominant-baseline="middle">-80</text>
<line x1="385.3" y1="209.79" x2="391.3" y2="209.79" stroke="#4a4a4a" stroke-width="0.9"/>
<text x="382.3" y="210.99" font-size="8.5" text-anchor="end" fill="#262626" dominant-baseline="middle">-60</text>
<line x1="418.56" y1="237" x2="418.56" y2="242.6" stroke="#4a4a4a" stroke-width="0.9"/>
<text x="418.56" y="252.8" font-size="8.5" text-anchor="middle" fill="#262626" dominant-baseline="middle">-60</text>
<line x1="385.3" y1="182.58" x2="391.3" y2="182.58" stroke="#4a4a4a" stroke-width="0.9"/>
<text x="382.3" y="183.78" font-size="8.5" text-anchor="end" fill="#262626" dominant-baseline="middle">-40</text>
<line x1="445.82" y1="237" x2="445.82" y2="242.6" stroke="#4a4a4a" stroke-width="0.9"/>
<text x="445.82" y="252.8" font-size="8.5" text-anchor="middle" fill="#262626" dominant-baseline="middle">-40</text>
<line x1="385.3" y1="155.36" x2="391.3" y2="155.36" stroke="#4a4a4a" stroke-width="0.9"/>
<text x="382.3" y="156.56" font-size="8.5" text-anchor="end" fill="#262626" dominant-baseline="middle">-20</text>
<line x1="473.09" y1="237" x2="473.09" y2="242.6" stroke="#4a4a4a" stroke-width="0.9"/>
<text x="473.09" y="252.8" font-size="8.5" text-anchor="middle" fill="#262626" dominant-baseline="middle">-20</text>
<line x1="385.3" y1="128.15" x2="391.3" y2="128.15" stroke="#4a4a4a" stroke-width="0.9"/>
<text x="382.3" y="129.35" font-size="8.5" text-anchor="end" fill="#262626" dominant-baseline="middle">0</text>
<line x1="500.35" y1="237" x2="500.35" y2="242.6" stroke="#4a4a4a" stroke-width="0.9"/>
<text x="500.35" y="252.8" font-size="8.5" text-anchor="middle" fill="#262626" dominant-baseline="middle">0</text>
<line x1="385.3" y1="100.94" x2="391.3" y2="100.94" stroke="#4a4a4a" stroke-width="0.9"/>
<text x="382.3" y="102.14" font-size="8.5" text-anchor="end" fill="#262626" dominant-baseline="middle">20</text>
<line x1="527.61" y1="237" x2="527.61" y2="242.6" stroke="#4a4a4a" stroke-width="0.9"/>
<text x="527.61" y="252.8" font-size="8.5" text-anchor="middle" fill="#262626" dominant-baseline="middle">20</text>
<line x1="385.3" y1="73.72" x2="391.3" y2="73.72" stroke="#4a4a4a" stroke-width="0.9"/>
<text x="382.3" y="74.92" font-size="8.5" text-anchor="end" fill="#262626" dominant-baseline="middle">40</text>
<line x1="554.88" y1="237" x2="554.88" y2="242.6" stroke="#4a4a4a" stroke-width="0.9"/>
<text x="554.88" y="252.8" font-size="8.5" text-anchor="middle" fill="#262626" dominant-baseline="middle">40</text>
<line x1="385.3" y1="46.51" x2="391.3" y2="46.51" stroke="#4a4a4a" stroke-width="0.9"/>
<text x="382.3" y="47.71" font-size="8.5" text-anchor="end" fill="#262626" dominant-baseline="middle">60</text>
<line x1="582.14" y1="237" x2="582.14" y2="242.6" stroke="#4a4a4a" stroke-width="0.9"/>
<text x="582.14" y="252.8" font-size="8.5" text-anchor="middle" fill="#262626" dominant-baseline="middle">60</text>
<line x1="385.3" y1="19.3" x2="391.3" y2="19.3" stroke="#4a4a4a" stroke-width="0.9"/>
<text x="382.3" y="20.5" font-size="8.5" text-anchor="end" fill="#262626" dominant-baseline="middle">80</text>
<line x1="609.4" y1="237" x2="609.4" y2="242.6" stroke="#4a4a4a" stroke-width="0.9"/>
<text x="609.4" y="252.8" font-size="8.5" text-anchor="middle" fill="#262626" dominant-baseline="middle">80</text>
<text x="511.1" y="264.1" font-size="10" text-anchor="middle" font-weight="bold" fill="#262626" >Y (km)</text>
<text transform="translate(365.1,128) rotate(-90)" font-size="10.3" font-weight="bold" text-anchor="middle" fill="#262626">Z (km)</text>
<text transform="translate(500.75,14.95) scale(1.11,1)" font-size="10.8" font-weight="bold" text-anchor="middle" fill="#000">Feasible Solution Set</text>
<rect x="530.1" y="25.4" width="103.5" height="41.6" fill="#fff" stroke="#8c8c8c" stroke-width="0.9"/>
<rect x="532.9" y="28.1" width="25.2" height="7.1" fill="#8080ff"/>
<text x="559.8" y="34.9" font-size="7.75" text-anchor="start" fill="#262626" >r=10km Boundary</text>
<rect x="532.9" y="38.1" width="25.2" height="7.1" fill="#e3e3fb"/>
<text x="559.8" y="44.7" font-size="7.75" text-anchor="start" fill="#262626" >r=50km Boundary</text>
<circle cx="545.5" cy="51.8" r="2.6" fill="#3de8b0"/>
<text x="559.8" y="54.5" font-size="7.75" text-anchor="start" fill="#262626" >Manoeuvre Solution</text>
<line x1="532.9" y1="61.4" x2="551.1" y2="61.4" stroke="#fb8c00" stroke-width="2.0"/>
<polygon points="549.1,58.5 559.1,61.4 549.1,64.3" fill="#fb8c00"/>
<text x="559.8" y="64.3" font-size="7.75" text-anchor="start" fill="#262626" >Sun Vector Direction</text>
<defs><linearGradient id="jet2" x1="0" y1="1" x2="0" y2="0"><stop offset="0" stop-color="#000085"/><stop offset="0.11" stop-color="#0000ff"/><stop offset="0.36" stop-color="#00ffff"/><stop offset="0.61" stop-color="#ffff00"/><stop offset="0.86" stop-color="#ff0000"/><stop offset="1" stop-color="#800000"/></linearGradient></defs>
<rect x="642" y="18" width="13.8" height="219" fill="url(#jet2)" stroke="#262626" stroke-width="0.5"/>
<line x1="653.3" y1="45.6" x2="655.8" y2="45.6" stroke="#262626" stroke-width="0.6"/>
<text x="659" y="46.7" font-size="8.0" text-anchor="start" fill="#262626" dominant-baseline="middle">7</text>
<line x1="653.3" y1="75.6" x2="655.8" y2="75.6" stroke="#262626" stroke-width="0.6"/>
<text x="659" y="76.7" font-size="8.0" text-anchor="start" fill="#262626" dominant-baseline="middle">6.5</text>
<line x1="653.3" y1="105.6" x2="655.8" y2="105.6" stroke="#262626" stroke-width="0.6"/>
<text x="659" y="106.7" font-size="8.0" text-anchor="start" fill="#262626" dominant-baseline="middle">6</text>
<line x1="653.3" y1="135.6" x2="655.8" y2="135.6" stroke="#262626" stroke-width="0.6"/>
<text x="659" y="136.7" font-size="8.0" text-anchor="start" fill="#262626" dominant-baseline="middle">5.5</text>
<line x1="653.3" y1="165.6" x2="655.8" y2="165.6" stroke="#262626" stroke-width="0.6"/>
<text x="659" y="166.7" font-size="8.0" text-anchor="start" fill="#262626" dominant-baseline="middle">5</text>
<line x1="653.3" y1="195.6" x2="655.8" y2="195.6" stroke="#262626" stroke-width="0.6"/>
<text x="659" y="196.7" font-size="8.0" text-anchor="start" fill="#262626" dominant-baseline="middle">4.5</text>
<line x1="653.3" y1="225.6" x2="655.8" y2="225.6" stroke="#262626" stroke-width="0.6"/>
<text x="659" y="226.7" font-size="8.0" text-anchor="start" fill="#262626" dominant-baseline="middle">4</text>
<text transform="translate(682.6,127.7) rotate(-90)" font-size="10.4" font-weight="bold" text-anchor="middle" fill="#262626">&#916;v (m/s)</text>
</svg></body></html>
